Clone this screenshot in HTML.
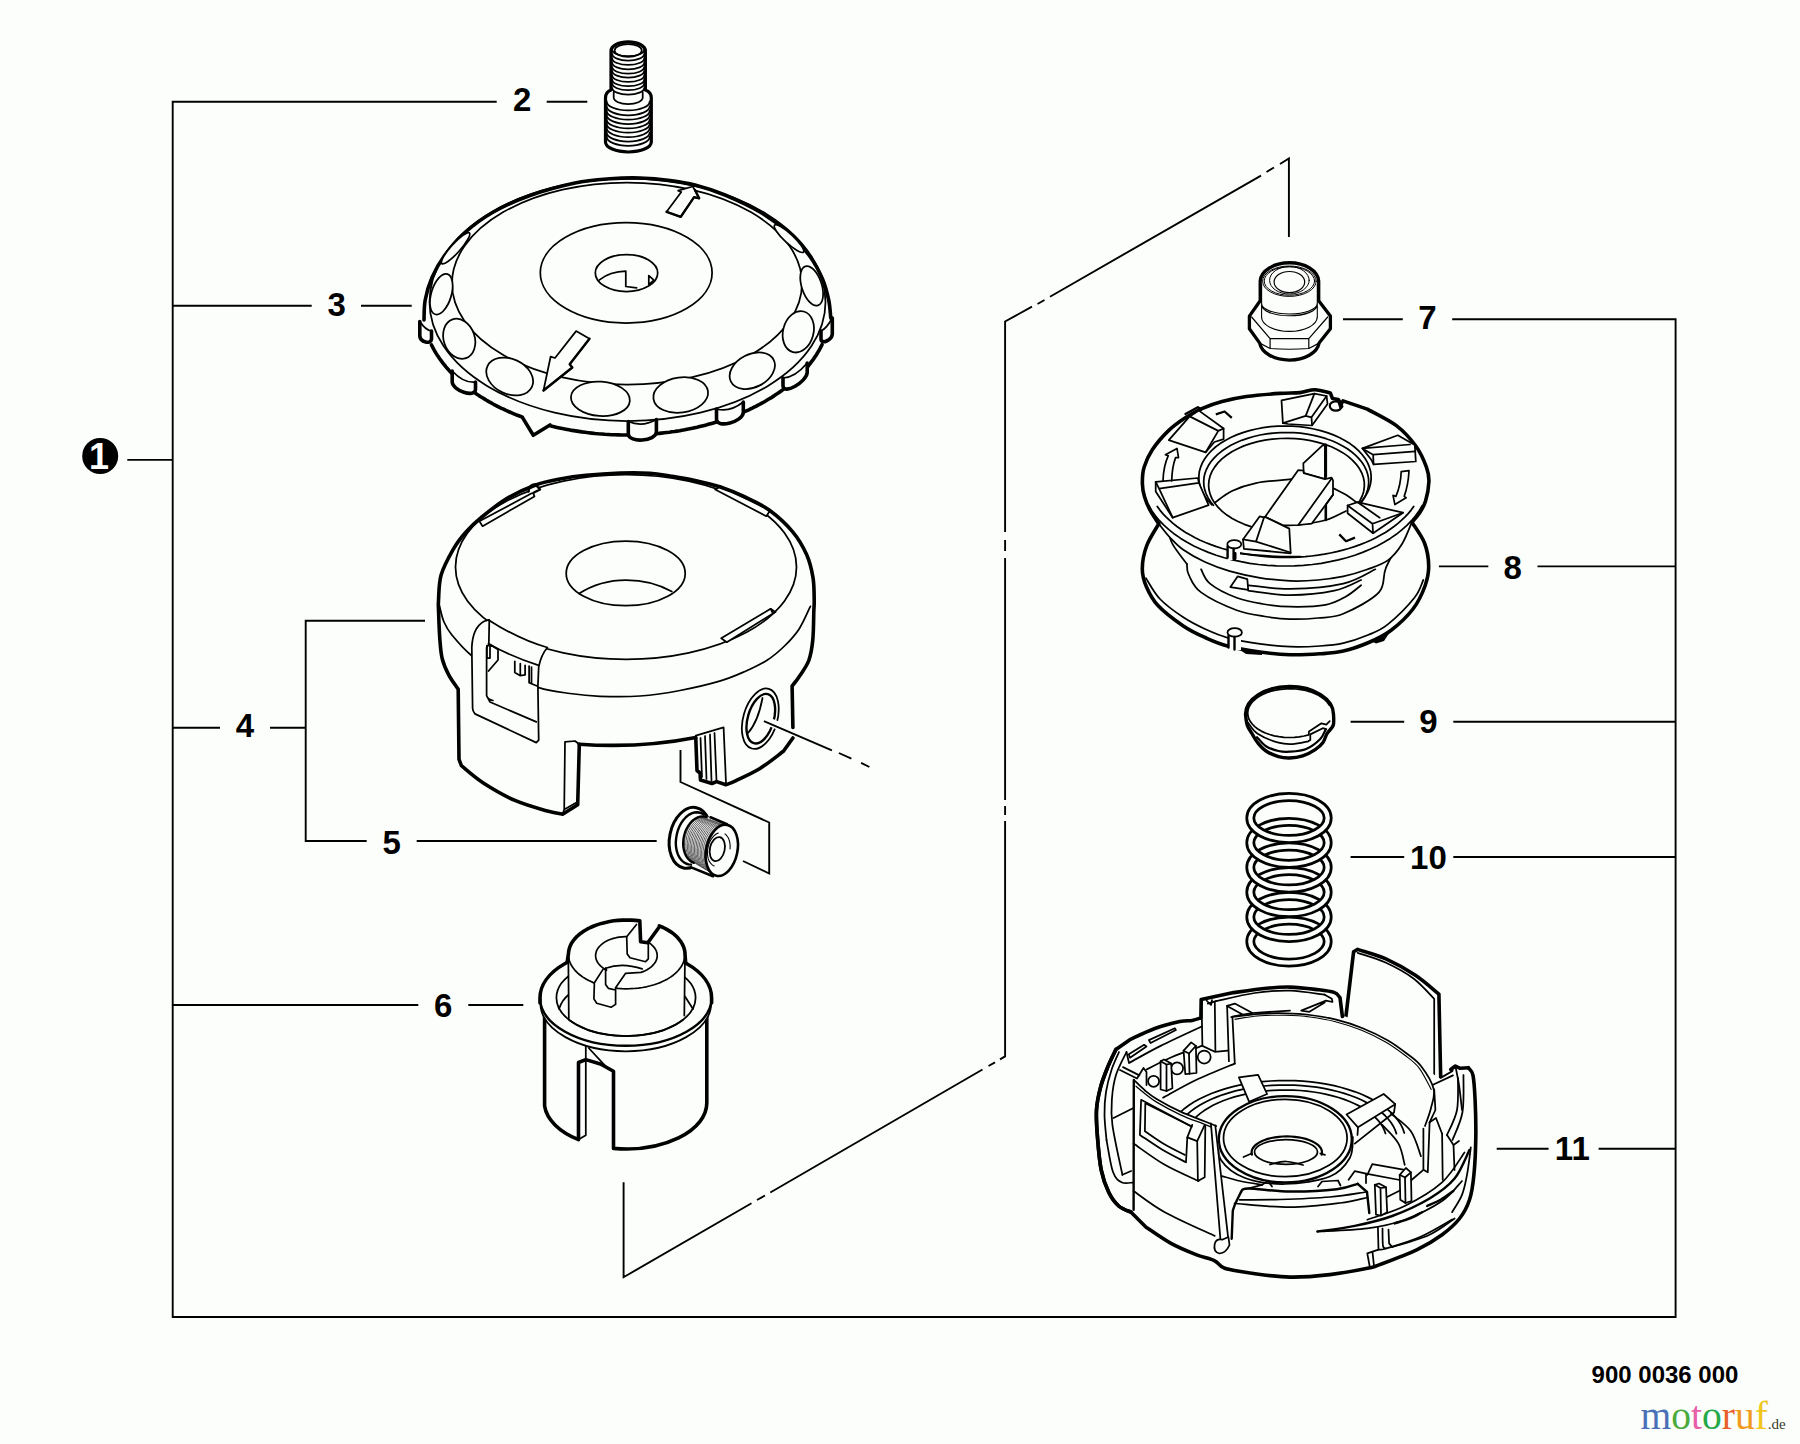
<!DOCTYPE html>
<html><head><meta charset="utf-8"><title>900 0036 000</title>
<style>
html,body{margin:0;padding:0;background:#fcfefc;}
body{width:1800px;height:1444px;overflow:hidden;font-family:"Liberation Sans",sans-serif;}
svg{display:block;position:absolute;left:0;top:0;}
.t{fill:none;stroke:#000;stroke-width:1.75;stroke-linecap:round;stroke-linejoin:round;}
.k{fill:none;stroke:#000;stroke-width:3.6;stroke-linecap:round;stroke-linejoin:round;}
.m{fill:none;stroke:#000;stroke-width:2.4;stroke-linecap:round;stroke-linejoin:round;}
.w{fill:#fcfefc;}
.l{fill:none;stroke:#000;stroke-width:1.9;stroke-linecap:butt;}
.n{font-family:"Liberation Sans",sans-serif;font-weight:bold;font-size:33px;fill:#000;text-anchor:middle;}
</style></head><body>
<svg width="1800" height="1444" viewBox="0 0 1800 1444">
<!-- LEADERS -->
<g id="leaders" class="l">
<path d="M496.7 101.7H172.7V1317H1675.6V319.2H1452.2"/>
<path d="M546.7 101.7H587.3"/>
<path d="M172.7 305.7H311.7M361 305.7H411.7"/>
<path d="M127.3 459.9H172.7"/>
<path d="M172.7 727.7H220M270 727.7H305.7"/>
<path d="M425 620.7H305.7V841H366.7M416.7 841H656.7"/>
<path d="M172.7 1005H418.3M468.3 1005H523.3"/>
<path d="M1343 319.2H1402.8"/>
<path d="M1438.9 566.4H1488.3M1537.5 566.4H1675.6"/>
<path d="M1350.6 721.7H1404.2M1453.3 721.7H1675.6"/>
<path d="M1350.6 857H1404.2M1453.3 857H1675.6"/>
<path d="M1496.7 1148.7H1548.6M1598.6 1148.7H1675.6"/>
<!-- dash-dot -->
<path d="M1288.9 237V158.4L1280 164M1274 167.5L1266.5 172M1261 175.6L1050 296.7M1044.5 300L1037.5 304M1032 306.7L1005.1 321.5V532M1005.1 540V551M1005.1 558V800M1005.1 806V815M1005.1 821V1056.4L1000 1059.4M995 1062.4L988.5 1066M982.5 1069.5L770.3 1192.5M765 1195.5L757 1200M751.5 1203.2L623.6 1277.2V1182.2"/>
<path d="M838.9 753L851.4 758.6M861.1 762.8L869.4 767"/>
<path d="M680.5 750V782L769.2 822.5V873.5L743 861"/>
</g>
<!-- LABELS -->
<g id="labels">
<circle cx="100.2" cy="456" r="18" fill="#000"/>
<text class="n" x="99" y="469.4" style="fill:#fff;font-size:36px">1</text>
<text class="n" x="522.3" y="111">2</text>
<text class="n" x="336.7" y="316.3">3</text>
<text class="n" x="245" y="737.2">4</text>
<text class="n" x="391.7" y="854.3">5</text>
<text class="n" x="443.3" y="1017">6</text>
<text class="n" x="1427.5" y="329.3">7</text>
<text class="n" x="1512.7" y="579">8</text>
<text class="n" x="1428.5" y="733">9</text>
<text class="n" x="1428.4" y="868.5">10</text>
<text class="n" x="1572.3" y="1159.6">11</text>
<text x="1665" y="1382.8" style="font-family:'Liberation Sans',sans-serif;font-weight:bold;font-size:24px;text-anchor:middle">900 0036 000</text>
<text x="1640.5" y="1428.6" style="font-family:'Liberation Serif',serif;font-size:39.5px"><tspan fill="#4a70b8">m</tspan><tspan fill="#4caa3c">o</tspan><tspan fill="#e85fa8">t</tspan><tspan fill="#25a848">o</tspan><tspan fill="#e8602a">r</tspan><tspan fill="#f09a20">u</tspan><tspan fill="#f0c61e">f</tspan><tspan fill="#3a3a2c" style="font-size:15px">.de</tspan></text>
</g>
<!-- PART2 -->
<g id="p2">
<path class="w" d="M611 51V92L605.5 97V142A22.9 10 0 0 0 651.3 142V97L645.4 92V51A17.2 9.2 0 0 0 611 51Z"/>
<path class="t" d="M612.2 49.7A16 6.5 0 0 0 644.2 49.7M612.2 54.0A16 6.5 0 0 0 644.2 54.0M612.2 58.4A16 6.5 0 0 0 644.2 58.4M612.2 62.8A16 6.5 0 0 0 644.2 62.8M612.2 67.1A16 6.5 0 0 0 644.2 67.1M612.2 71.0A16 6.5 0 0 0 644.2 71.0M612.2 75.4A16 6.5 0 0 0 644.2 75.4M612.2 79.7A16 6.5 0 0 0 644.2 79.7M612.2 83.6A16 6.5 0 0 0 644.2 83.6M612.2 88.0A16 6.5 0 0 0 644.2 88.0M613.7 97.6A14.5 6.5 0 0 0 642.7 97.6M613.7 92V98M642.7 92V98M606.7 101.4A21.5 9 0 0 0 649.7 101.4M606.7 106.3A21.5 9 0 0 0 649.7 106.3M606.7 110.7A21.5 9 0 0 0 649.7 110.7M606.7 115.0A21.5 9 0 0 0 649.7 115.0M606.7 119.4A21.5 9 0 0 0 649.7 119.4M606.7 123.7A21.5 9 0 0 0 649.7 123.7M606.7 128.1A21.5 9 0 0 0 649.7 128.1M606.7 132.5A21.5 9 0 0 0 649.7 132.5M606.7 136.8A21.5 9 0 0 0 649.7 136.8"/>
<ellipse class="t" cx="628.2" cy="50.5" rx="13.6" ry="6.3"/>
<path class="k" style="stroke-width:3.2" d="M611 51A17.2 9.2 0 0 1 645.4 51V90Q651.3 92 651.3 98V142A22.9 10 0 0 1 605.5 142V98Q605.5 92 611 90Z"/>
</g>
<!-- PART3 -->
<g id="p3">
<path class="w" d="M515 410L522.4 417.4L533.3 435.3L550 425L560 420Z"/>
<path class="w" d="M424.0 320.0C424.2 316.7 423.9 307.1 425.2 300.0C426.5 292.9 428.7 285.0 432.0 277.5C435.3 270.0 439.5 262.5 445.0 255.0C450.5 247.5 457.1 239.6 465.0 232.5C472.9 225.4 481.7 218.7 492.5 212.5C503.3 206.3 516.2 200.4 530.0 195.5C543.8 190.6 561.7 185.8 575.0 183.0C588.3 180.2 599.2 179.6 610.0 178.8C620.8 178.0 630.0 177.7 640.0 178.0C650.0 178.3 660.8 179.3 670.0 180.5C679.2 181.7 685.8 182.6 695.0 185.0C704.2 187.4 714.2 190.5 725.0 195.0C735.8 199.5 749.2 205.5 760.0 212.0C770.8 218.5 781.7 226.6 790.0 234.0C798.3 241.4 804.6 249.0 810.0 256.5C815.4 264.0 819.4 271.8 822.5 279.0C825.6 286.2 827.3 293.5 828.7 300.0C830.1 306.5 830.4 315.0 830.8 318.0L824.0 340.3L817.1 353.5L808.0 366.3L796.6 378.3L783.2 389.4L767.9 399.6L751.0 408.7L732.5 416.6L712.7 423.2L691.9 428.3L670.4 432.1L648.3 434.3L625.9 435.0L603.6 434.2L581.5 431.8L560.0 428.0L539.2 422.7L519.6 416.1L501.2 408.1L484.3 398.9L469.2 388.7L455.9 377.4L444.7 365.4L435.7 352.6L429.0 339.3Z"/>
<path class="k" d="M424.0 320.0C424.2 316.7 423.9 307.1 425.2 300.0C426.5 292.9 428.7 285.0 432.0 277.5C435.3 270.0 439.5 262.5 445.0 255.0C450.5 247.5 457.1 239.6 465.0 232.5C472.9 225.4 481.7 218.7 492.5 212.5C503.3 206.3 516.2 200.4 530.0 195.5C543.8 190.6 561.7 185.8 575.0 183.0C588.3 180.2 599.2 179.6 610.0 178.8C620.8 178.0 630.0 177.7 640.0 178.0C650.0 178.3 660.8 179.3 670.0 180.5C679.2 181.7 685.8 182.6 695.0 185.0C704.2 187.4 714.2 190.5 725.0 195.0C735.8 199.5 749.2 205.5 760.0 212.0C770.8 218.5 781.7 226.6 790.0 234.0C798.3 241.4 804.6 249.0 810.0 256.5C815.4 264.0 819.4 271.8 822.5 279.0C825.6 286.2 827.3 293.5 828.7 300.0C830.1 306.5 830.4 315.0 830.8 318.0M431.5 344.9L432.1 346.2L432.8 347.4L433.4 348.7L434.1 349.9L434.8 351.2L435.6 352.4L436.3 353.6L437.1 354.9L437.9 356.1L438.7 357.3L439.5 358.5L440.4 359.7L441.3 360.9L442.2 362.1L443.1 363.3L444.0 364.5L445.0 365.7L445.9 366.9L446.9 368.0L448.0 369.2L449.0 370.4L450.0 371.5L451.1 372.6L452.2 373.8M475.5 393.3L477.2 394.4L478.9 395.6L480.7 396.7L482.5 397.8L484.3 398.9L486.1 400.0L488.0 401.1L489.8 402.2L491.7 403.2L493.6 404.3L495.6 405.3L497.5 406.3L499.5 407.3L501.5 408.3L503.5 409.2L505.5 410.2L507.6 411.1L509.6 412.0L511.7 412.9L513.8 413.8L515.9 414.7L518.1 415.5L520.2 416.3L522.4 417.1M550.0 425.7L553.1 426.4L556.2 427.2L559.4 427.9L562.5 428.6L565.7 429.2L568.9 429.8L572.1 430.4L575.4 430.9L578.6 431.4L581.9 431.9L585.1 432.3L588.4 432.7L591.7 433.1L595.0 433.5L598.3 433.8L601.6 434.0L604.9 434.3L608.3 434.5L611.6 434.7L614.9 434.8L618.3 434.9L621.6 435.0L625.0 435.0L628.3 435.0M656.4 433.6L659.0 433.4L661.6 433.1L664.2 432.8L666.8 432.5L669.4 432.2L671.9 431.8L674.5 431.5L677.0 431.1L679.6 430.7L682.1 430.2L684.7 429.8L687.2 429.3L689.7 428.8L692.2 428.3L694.7 427.7L697.1 427.2L699.6 426.6L702.1 426.0L704.5 425.4L706.9 424.8L709.3 424.1L711.7 423.4L714.1 422.7L716.5 422.0M743.3 412.2L745.1 411.4L747.0 410.6L748.8 409.8L750.6 408.9L752.3 408.1L754.1 407.2L755.9 406.3L757.6 405.4L759.3 404.5L761.0 403.6L762.7 402.7L764.4 401.7L766.0 400.8L767.6 399.8L769.3 398.8L770.9 397.9L772.4 396.9L774.0 395.9L775.5 394.8L777.1 393.8L778.6 392.8L780.1 391.7L781.5 390.7L783.0 389.6M807.2 367.2L808.0 366.3L808.7 365.4L809.4 364.5L810.1 363.6L810.8 362.6L811.5 361.7L812.2 360.8L812.9 359.9L813.6 359.0L814.2 358.0L814.8 357.1L815.5 356.2L816.1 355.2L816.7 354.3L817.3 353.3L817.8 352.4L818.4 351.4L819.0 350.5L819.5 349.5L820.0 348.6L820.5 347.6L821.0 346.6L821.5 345.7L822.0 344.7M522.4 417.4L533.3 435.3L550 425"/>
<path class="t" d="M429.5 302A198 123.5 0 0 1 825.5 302A198 119 0 0 1 429.5 302Z"/>
<ellipse class="t" cx="627" cy="283.5" rx="175" ry="101"/>
<ellipse class="t" cx="626.2" cy="272.8" rx="85.9" ry="50.2"/>
<ellipse class="t" cx="626.5" cy="273" rx="31.2" ry="18.5"/>
<path class="t" d="M599.1 280.1Q610 271.5 625.8 271.2V286.5L636.6 287.8M648.8 275.6V284.6L653.9 280.1Z"/>
<ellipse class="t w" cx="455.6" cy="248.2" rx="20.6" ry="4.6" transform="rotate(-48 455.6 248.2)"/>
<ellipse class="t w" cx="441.3" cy="294.2" rx="10" ry="21" transform="rotate(17 441.3 294.2)"/>
<ellipse class="t w" cx="459.2" cy="338.8" rx="15.5" ry="20.5" transform="rotate(-19 459.2 338.8)"/>
<ellipse class="t w" cx="509.7" cy="376.5" rx="24.5" ry="17.5" transform="rotate(25 509.7 376.5)"/>
<ellipse class="t w" cx="600.4" cy="398.8" rx="29.5" ry="17.2" transform="rotate(4 600.4 398.8)"/>
<ellipse class="t w" cx="680.7" cy="395" rx="27.5" ry="17.6" transform="rotate(-8 680.7 395)"/>
<ellipse class="t w" cx="752.3" cy="370.7" rx="24" ry="16.5" transform="rotate(-27 752.3 370.7)"/>
<ellipse class="t w" cx="798.3" cy="331.8" rx="15.2" ry="21" transform="rotate(15 798.3 331.8)"/>
<ellipse class="t w" cx="811.7" cy="285.9" rx="10" ry="20.5" transform="rotate(-18 811.7 285.9)"/>
<ellipse class="t w" cx="789" cy="238.6" rx="19.7" ry="4.6" transform="rotate(43 789 238.6)"/>
<path class="w" d="M628.3 421.5L628.3 434.0C628.8 443.3333333333333 655.9 441.3333333333333 656.4 432.0L656.4 419.5Q642.3499999999999 427.5 628.3 421.5Z"/><path class="k" d="M628.3 421.5L628.3 434.0C628.8 443.3333333333333 655.9 441.3333333333333 656.4 432.0L656.4 419.5"/><path class="t" d="M656.4 419.5Q642.3499999999999 427.5 628.3 421.5"/>
<path class="w" d="M716.5 409L716.5 419.5C717.0 428.8333333333333 742.8 421.8333333333333 743.3 412.5L743.3 402Q729.9 412.5 716.5 409Z"/><path class="k" d="M716.5 409L716.5 419.5C717.0 428.8333333333333 742.8 421.8333333333333 743.3 412.5L743.3 402"/><path class="t" d="M743.3 402Q729.9 412.5 716.5 409"/>
<path class="w" d="M783 378L783 386C783.5 395.3333333333333 806.7 381.8333333333333 807.2 372.5L807.2 363Q795.1 377.5 783 378Z"/><path class="k" d="M783 378L783 386C783.5 395.3333333333333 806.7 381.8333333333333 807.2 372.5L807.2 363"/><path class="t" d="M807.2 363Q795.1 377.5 783 378"/>
<path class="w" d="M821 331L821 339C821.5 345.0 831.8 340.0 832.3 334L832.3 318Q826.65 328.5 821 331Z"/><path class="k" d="M821 331L821 339C821.5 345.0 831.8 340.0 832.3 334L832.3 318"/><path class="t" d="M832.3 318Q826.65 328.5 821 331"/>
<path class="w" d="M419.8 321.5L419.8 336.0C420.3 342.0 431.0 345.0 431.5 339L431.5 331Q425.65 330.25 419.8 321.5Z"/><path class="k" d="M419.8 321.5L419.8 336.0C420.3 342.0 431.0 345.0 431.5 339L431.5 331"/><path class="t" d="M431.5 331Q425.65 330.25 419.8 321.5"/>
<path class="w" d="M452.2 371L452.2 382C452.7 390.6666666666667 475.0 398.1666666666667 475.5 389.5L475.5 382Q463.85 383.5 452.2 371Z"/><path class="k" d="M452.2 371L452.2 382C452.7 390.6666666666667 475.0 398.1666666666667 475.5 389.5L475.5 382"/><path class="t" d="M475.5 382Q463.85 383.5 452.2 371"/>
<path class="t w" d="M543.5 390.5L550.6 356.7L555 358L576.1 331.1L589.5 338.8L569.7 364.3L572.3 367.5Z"/>
<path class="k" d="M589.5 338.8L569.7 364.3L572.3 367.5L543.5 390.5" style="stroke-width:2.4"/>
<path class="t w" d="M666.6 211.8L681.3 192L678.1 190.7L692.8 186.5L699.2 198.3L694.1 197.1L680.7 216.9Z"/>
<path class="k" d="M666.6 211.8L680.7 216.9L694.1 197.1L699.2 198.3L695 190" style="stroke-width:2.4"/>
</g>
<!-- PART4 -->
<g id="p4">
<path class="w" d="M438.6 612.0C438.6 610.1 438.1 606.8 438.5 600.6C438.9 594.4 438.7 583.5 441.1 575.0C443.6 566.5 449.1 556.6 453.2 549.4C457.3 542.2 461.3 537.3 466.0 532.0C470.7 526.7 474.6 523.0 481.3 517.5C488.0 512.0 497.1 504.4 506.0 499.0C515.0 493.6 526.0 488.5 535.0 485.2C544.0 481.9 551.5 480.6 560.0 479.0C568.5 477.4 576.0 476.3 586.0 475.3C596.0 474.3 609.3 473.4 620.0 473.0C630.7 472.6 641.5 472.7 650.0 473.2C658.5 473.7 663.6 475.0 671.1 476.2C678.6 477.4 686.9 478.7 695.0 480.5C703.1 482.3 711.4 484.1 719.7 486.8C728.0 489.6 736.7 493.1 745.0 497.0C753.3 500.9 761.6 504.4 769.5 510.2C777.4 516.0 786.3 524.2 792.5 531.6C798.7 539.0 803.2 546.9 806.6 554.6C810.0 562.3 811.7 569.9 813.0 577.6C814.3 585.3 814.1 594.9 814.2 600.6C814.3 606.3 813.9 610.1 813.8 612.0L812.8 639.8C812.1 643.2 811.0 654.4 808.8 660.5C806.5 666.6 802.1 672.2 799.3 676.5C796.5 680.8 793.3 684.4 792.1 686.0L792.9 738L783.4 751.3C779.4 754.2 767.5 763.9 759.5 768.8C751.5 773.7 741.2 778.1 735.6 780.8C730.0 783.5 727.6 784.1 726.0 784.8L716.5 781.6L700.5 780L695.8 738.6L640 745.7L579.3 744.2L577.7 804.7L562.6 814.2L547.4 811.0C542.1 809.3 526.2 805.3 515.6 800.7C505.0 796.1 492.7 789.0 483.7 783.2C474.7 777.4 465.5 769.7 461.4 765.7C457.3 761.7 459.4 760.4 459.0 759.3L458.6 692L458.2 689.2C456.6 686.8 451.3 679.9 448.7 674.9C446.1 669.9 443.8 664.9 442.3 659.0C440.8 653.1 440.5 647.6 439.9 639.8C439.3 632.0 438.8 616.6 438.6 612.0Z"/>
<ellipse class="t" cx="626" cy="567" rx="170.5" ry="92.3"/>
<path class="t" d="M439.5 606.0C440.2 608.7 441.9 617.2 444.0 622.0C446.1 626.8 447.3 629.4 451.9 635.0C456.5 640.6 463.8 649.5 471.8 655.8C479.8 662.0 488.9 667.2 500.0 672.5C511.1 677.8 527.0 684.1 538.7 687.6C550.4 691.1 559.8 692.0 570.0 693.5C580.2 695.0 588.3 695.9 600.0 696.3C611.7 696.7 626.7 697.0 640.0 696.0C653.3 695.0 666.7 693.0 680.0 690.5C693.3 688.0 708.8 684.4 719.6 681.2C730.4 678.0 737.0 675.0 745.0 671.5C753.0 668.0 760.7 664.3 767.4 660.0C774.1 655.7 779.7 650.7 785.0 645.5C790.3 640.3 795.1 635.2 799.3 628.7C803.5 622.2 808.5 610.1 810.4 606.4"/>
<ellipse class="t" cx="625.7" cy="573.4" rx="59.5" ry="32.3"/>
<path class="t" d="M579.1 593.5Q600 580 626 580Q652 580 671.8 591.6"/>
<path class="t w" d="M479.4 521.3L533.1 492.6L534.4 496.4L482.6 526.2Z"/>
<path class="t w" d="M715.2 489.4L721 486.2L770.1 510.5L766.3 516.2Z"/>
<path class="t w" d="M721.2 638.2L770.6 608.8L775.4 612L726.8 642.2Z"/>
<path class="t" d="M770.6 608.8L772.5 612.5L775.4 612"/>
<path class="m w" d="M528.5 491.5Q529.5 484 535.5 484.5L540 489.5L533.5 492.8"/>
<path class="k" d="M458.2 689.2C456.6 686.8 451.3 679.9 448.7 674.9C446.1 669.9 443.8 664.9 442.3 659.0C440.8 653.1 440.5 647.6 439.9 639.8C439.3 632.0 438.8 618.5 438.6 612.0C438.4 605.5 438.1 606.8 438.5 600.6C438.9 594.4 438.7 583.5 441.1 575.0C443.6 566.5 449.1 556.6 453.2 549.4C457.3 542.2 461.3 537.3 466.0 532.0C470.7 526.7 474.6 523.0 481.3 517.5C488.0 512.0 497.1 504.4 506.0 499.0C515.0 493.6 526.0 488.5 535.0 485.2C544.0 481.9 551.5 480.6 560.0 479.0C568.5 477.4 576.0 476.3 586.0 475.3C596.0 474.3 609.3 473.4 620.0 473.0C630.7 472.6 641.5 472.7 650.0 473.2C658.5 473.7 663.6 475.0 671.1 476.2C678.6 477.4 686.9 478.7 695.0 480.5C703.1 482.3 711.4 484.1 719.7 486.8C728.0 489.6 736.7 493.1 745.0 497.0C753.3 500.9 761.6 504.4 769.5 510.2C777.4 516.0 786.3 524.2 792.5 531.6C798.7 539.0 803.2 546.9 806.6 554.6C810.0 562.3 811.7 569.9 813.0 577.6C814.3 585.3 814.1 594.9 814.2 600.6C814.3 606.3 814.0 605.5 813.8 612.0C813.6 618.5 813.6 631.7 812.8 639.8C812.0 647.9 811.0 654.4 808.8 660.5C806.5 666.6 802.1 672.2 799.3 676.5C796.5 680.8 793.3 684.4 792.1 686.0L792.9 727.4M792.9 738L783.4 751.3C779.4 754.2 767.5 763.9 759.5 768.8C751.5 773.7 741.2 778.1 735.6 780.8C730.0 783.5 727.6 784.1 726.0 784.8L716.5 781.6L712 783.5L700.5 780L700 773L697 770.5L695.8 738.6M458.2 689.2L459 759.3L461.4 765.7C465.1 768.6 474.7 777.4 483.7 783.2C492.7 789.0 505.0 796.1 515.6 800.7C526.2 805.3 539.6 808.8 547.4 811.0C555.2 813.2 560.1 813.7 562.6 814.2L577.7 804.7L579.3 744.2"/>
<path class="k" d="M579.3 744.2Q640 748.5 695.8 737.5"/>
<path class="t" d="M579.3 744.2L575 741L565 741.8L564.2 809.5L576.5 802.5M564.2 809.5L562.6 814.2"/>
<path class="t" d="M695.8 735.6L723.6 727.4L726 783.2M700.5 738L702 777M705 736L706.5 779M710 734.5L711.5 781M714.5 733L716.5 780.5"/>
<path class="t w" d="M547.4 647.5Q541 655 538.7 667L537.9 686L538.7 740.2L536.3 742.6L475 713.9Q472.6 711 472.6 708.3L471.8 647.8Q472.5 628 483.7 621.5L488.5 619.9Q520 640 547.4 647.5Z"/>
<path class="t" d="M489.3 619.9L488.8 644.6L486.6 647.8L486.6 695.6L490 702L536.3 721.9M488.5 643.8Q512 657 538.7 665.3M486.6 695.6Q488 700 493 700.5"/>
<path class="t" d="M486.9 645.5V658H490V645M490 644.5L498 649.5V660L488.5 671M514.8 661.3V672.5L520.3 675.7V663.7M520.3 675.7L525.1 674.9V665.3M529.1 666.1V682.8L537.1 686M531.5 667V683.5"/>
<ellipse class="t w" cx="760.3" cy="718.7" rx="17" ry="31" transform="rotate(16 760.3 718.7)"/>
<ellipse class="m" cx="760.8" cy="718.7" rx="13" ry="25.5" transform="rotate(16 760.8 718.7)"/>
<path class="t" d="M762.5 698Q758 722 748 733"/>
<path class="w" d="M766 716L780 722L778 730L764 724Z"/>
<path class="l" d="M763.9 721.1L831.9 750.3"/>
</g>
<!-- PART5 -->
<g id="p5">
<ellipse class="w" cx="690" cy="837.8" rx="21" ry="31.5" transform="rotate(12 690 837.8)"/>
<ellipse class="k" style="stroke-width:3" cx="690" cy="837.8" rx="20.3" ry="30.8" transform="rotate(12 690 837.8)"/>
<path class="m" d="M691.3 864.6L688.5 864.4L685.9 863.5L683.4 862.0L681.2 859.9L679.3 857.3L677.8 854.2L676.7 850.6L676.0 846.8L675.8 842.7L676.1 838.6L676.8 834.4L677.9 830.3L679.4 826.5L681.3 822.9L683.6 819.7L686.1 817.0L688.7 814.9L691.6 813.4L694.4 812.5L697.3 812.2L700.1 812.7L702.7 813.8L705.0 815.5L707.1 817.8"/>
<ellipse class="w" cx="700.3" cy="840" rx="16.8" ry="23.8" transform="rotate(12 700.3 840)"/>
<path class="w" d="M704 815.5L727.8 824.6L713 876.2L691.5 867.5Z"/>
<path d="M692.3 861.7L688.8 858.4L686.1 853.8L684.7 848.1L684.4 841.9L685.4 835.6L687.6 829.6L690.8 824.4L694.7 820.5L699.2 818.0L703.8 817.2M693.7 862.6L690.1 859.2L687.5 854.6L686.1 848.9L685.8 842.6L686.8 836.2L689.0 830.2L692.2 825.0L696.2 821.0L700.6 818.5L705.2 817.7M695.0 863.4L691.5 860.1L688.9 855.4L687.5 849.6L687.3 843.3L688.3 836.9L690.5 830.8L693.7 825.6L697.6 821.5L702.1 819.0L706.7 818.1M696.4 864.2L692.9 860.9L690.4 856.1L688.9 850.4L688.7 844.0L689.7 837.6L691.9 831.5L695.1 826.2L699.1 822.1L703.5 819.5L708.1 818.6M697.8 865.1L694.3 861.7L691.8 856.9L690.3 851.1L690.1 844.7L691.2 838.2L693.4 832.1L696.6 826.7L700.5 822.6L705.0 820.0L709.5 819.1M699.2 865.9L695.7 862.5L693.2 857.7L691.7 851.9L691.6 845.5L692.6 838.9L694.8 832.7L698.0 827.3L702.0 823.1L706.4 820.5L711.0 819.6M700.5 866.7L697.1 863.3L694.6 858.5L693.2 852.7L693.0 846.2L694.1 839.6L696.3 833.3L699.5 827.9L703.4 823.7L707.9 821.0L712.4 820.1M701.9 867.6L698.5 864.2L696.0 859.3L694.6 853.4L694.4 846.9L695.5 840.2L697.7 833.9L700.9 828.4L704.9 824.2L709.3 821.5L713.8 820.6M703.3 868.4L699.8 865.0L697.4 860.1L696.0 854.2L695.9 847.6L696.9 840.9L699.2 834.5L702.4 829.0L706.4 824.7L710.8 822.0L715.3 821.1M704.6 869.2L701.2 865.8L698.8 860.9L697.4 854.9L697.3 848.3L698.4 841.5L700.6 835.2L703.8 829.6L707.8 825.3L712.2 822.5L716.7 821.6M706.0 870.1L702.6 866.6L700.2 861.7L698.8 855.7L698.7 849.0L699.8 842.2L702.1 835.8L705.3 830.2L709.3 825.8L713.7 823.1L718.2 822.1M707.4 870.9L704.0 867.4L701.6 862.5L700.3 856.4L700.2 849.7L701.3 842.9L703.5 836.4L706.8 830.7L710.7 826.4L715.1 823.6L719.6 822.6M708.7 871.7L705.4 868.3L703.0 863.3L701.7 857.2L701.6 850.4L702.7 843.5L705.0 837.0L708.2 831.3L712.2 826.9L716.5 824.1L721.0 823.1M710.1 872.6L706.8 869.1L704.4 864.1L703.1 857.9L703.0 851.2L704.2 844.2L706.4 837.6L709.7 831.9L713.6 827.4L718.0 824.6L722.5 823.6M711.5 873.4L708.2 869.9L705.8 864.9L704.5 858.7L704.5 851.9L705.6 844.9L707.9 838.2L711.1 832.5L715.1 828.0L719.4 825.1L723.9 824.1" style="fill:none;stroke:#333;stroke-width:0.8"/>
<path class="m" style="stroke-width:2.3" d="M693.9 862.9L691.9 862.0L690.0 860.7L688.3 859.0L686.8 857.1L685.5 854.8L684.5 852.3L683.8 849.6L683.3 846.7L683.1 843.7L683.3 840.6L683.7 837.5L684.4 834.5L685.3 831.6L686.6 828.8L688.0 826.2L689.7 823.8L691.5 821.7L693.5 819.9L695.6 818.5L697.8 817.4L700.1 816.7L702.3 816.5L704.5 816.6L706.7 817.1"/>
<path class="k" style="stroke-width:2.6" d="M710.5 817.3L727 824.3M691.8 867.6L713 876.2"/>
<ellipse class="w" cx="721.8" cy="850.3" rx="15.6" ry="26" transform="rotate(12 721.8 850.3)"/>
<ellipse class="k" style="stroke-width:2.6" cx="721.8" cy="850.3" rx="15.6" ry="26" transform="rotate(12 721.8 850.3)"/>
<path class="t" style="stroke-width:1.1" d="M725.0 834.0L725.4 834.4L725.9 834.7L726.3 835.1L726.7 835.5L727.0 836.0L727.4 836.5L727.7 837.0L728.1 837.5L728.4 838.1L728.6 838.7L728.9 839.3L729.1 840.0L729.3 840.6L729.5 841.3L729.7 842.0L729.8 842.7L729.9 843.5L730.0 844.2L730.1 845.0L730.1 845.7L730.1 846.5L730.1 847.3L730.1 848.1L730.0 848.9"/>
<path class="t" style="stroke-width:1.1" d="M714.2 865.9L713.0 865.4L712.0 864.6L711.0 863.7L710.2 862.6L709.4 861.4L708.7 860.0L708.2 858.4L707.8 856.8L707.6 855.0L707.5 853.2L707.5 851.3L707.7 849.4L708.0 847.6L708.4 845.7L709.0 843.9L709.7 842.1L710.5 840.5L711.4 839.0L712.4 837.6L713.5 836.3L714.6 835.2L715.8 834.3L717.1 833.6L718.3 833.1"/>
<ellipse class="m" style="stroke-width:1.8" cx="717.3" cy="849.1" rx="7.4" ry="12.2" transform="rotate(12 717.3 849.1)"/>
</g>
<!-- PART6 -->
<g id="p6">
<path class="w" d="M544.6 1000V1106A81 46 0 0 0 578.5 1139.6L585.8 1135.3V1059.6L600.4 1064L613.5 1071.3V1148.4A81 46 0 0 0 706.8 1103V1000Z"/>
<path class="k" d="M544.6 1008V1106A81 46 0 0 0 578.5 1139.6V1062.5L585.8 1059.6L600.4 1064L613.5 1071.3V1148.4A81 46 0 0 0 706.8 1103V1008"/>
<path class="t" d="M585.8 1046.5V1135.3L578.5 1139.6M588.7 1048L607.6 1068.4"/>
<path class="w" d="M540 997.8A85.8 48.5 0 0 1 711.6 997.8V1003A85.8 48.5 0 0 1 540 1003Z"/>
<path class="t" d="M540.4 1003A85.4 48.3 0 0 0 711.2 1003"/>
<path class="k" d="M540 1003V997.8A85.8 48.5 0 0 1 711.6 997.8V1003"/>
<path class="m" d="M540 997.8A85.8 48 0 0 0 711.6 997.8"/>
<ellipse class="t" cx="626" cy="997.8" rx="69.6" ry="38.3"/>
<path class="t" d="M559 1009Q562 1000 568.3 995M693 1009L685 996.5"/>
<path class="w" d="M568.3 954.4A58.3 34.4 0 0 1 685 954.4L684.3 1015.6Q626 1040 568.8 1018.3Z"/>
<path class="t" d="M568.3 954.4L568.8 1018.3M685 954.4L684.3 1015.6"/>
<path class="t" d="M683.0 1019.8L679.6 1022.2L675.9 1024.5L671.9 1026.6L667.6 1028.5L663.0 1030.3L658.1 1031.8L653.1 1033.1L647.9 1034.2L642.5 1035.0L637.1 1035.6L631.6 1036.0L626.0 1036.1L620.4 1036.0L614.9 1035.6L609.5 1035.0L604.1 1034.2L598.9 1033.1L593.9 1031.8L589.0 1030.3L584.4 1028.5L580.1 1026.6L576.1 1024.5L572.4 1022.2L569.0 1019.8"/>
<path class="m" style="stroke-width:1.7" d="M568.4 954.4L568.5 956.1L568.7 957.7L569.0 959.3L569.5 961.0L570.1 962.6L570.8 964.2L571.7 965.7L572.6 967.3L573.8 968.8L575.0 970.3L576.3 971.7L577.8 973.1L579.4 974.5L581.1 975.8L582.9 977.1L584.8 978.3L586.8 979.5L588.8 980.6L591.0 981.6L593.3 982.6L595.6 983.5L598.0 984.3L600.5 985.1L603.0 985.8M615.6 987.8L617.6 988.4L621.7 988.7L625.9 988.8L630.1 988.7L634.3 988.5L638.4 988.1L642.5 987.5L646.5 986.8L650.4 985.8L654.2 984.7L657.8 983.5L661.3 982.1L664.6 980.6L667.7 978.9L670.5 977.1L673.2 975.2L675.6 973.1L677.8 971.0L679.6 968.8L681.3 966.5L682.6 964.2L683.6 961.8L684.4 959.3L684.8 956.9L685.0 954.4"/>
<path class="m" style="stroke-width:1.7" d="M626.7 936.7L625.3 936.6L622.2 936.8L619.2 937.1L616.2 937.7L613.4 938.4L610.7 939.3L608.1 940.3L605.7 941.5L603.5 942.9L601.6 944.4L599.9 946.0L598.4 947.6L597.3 949.4L596.4 951.2L595.9 953.1L595.6 955.0L595.7 956.9L596.0 958.8L596.7 960.7L597.7 962.5L599.0 964.2L600.5 965.9L602.3 967.4L604.3 968.9L606.6 970.2L605.6 968.3"/>
<path class="m" style="stroke-width:1.7" d="M645.4 940.6L647.3 941.6L649.1 942.8L650.8 944.0L652.2 945.3L653.5 946.6L654.6 948.0L655.6 949.5L656.3 951.0L656.8 952.5L657.1 954.1L657.2 955.7L657.1 957.3L656.8 958.8L656.2 960.4L655.5 961.9L654.5 963.3L653.4 964.7L652.1 966.1L650.6 967.4L648.9 968.6L647.1 969.7L645.1 970.7L643.1 971.6L640.9 972.4L625.6 973.3L615.6 987.8"/>
<path class="m" style="stroke-width:1.7" d="M605.6 968.3Q622 962 642.2 968.9"/>
<path class="w" d="M640 920.6L640.6 941.7L647.8 942.8L659.4 926.7L655 916L645 915Z"/>
<path class="m" style="stroke-width:1.7" d="M636.5 924.5L626.7 936.7L627.2 953.9L630 957.8L645.6 961.7L648.3 958.9L648.3 943.9"/>
<path class="w" d="M603.3 968.9L594.4 982.8L593.9 998.9L596.7 1003.3L611.1 1007.2L615.6 1004.4L615.6 987.8L605.6 984.4Z"/>
<path class="m" style="stroke-width:1.7" d="M603.3 968.9L594.4 982.8L593.9 998.9L596.7 1003.3L611.1 1007.2L615.6 1004.4L615.6 987.8M605.6 968.3L605.6 984.4L608.3 988.3L615.6 990"/>
<path class="k" d="M567.2 962L568.3 954.4L568.4 954.4L568.6 951.8L569.1 949.3L569.9 946.7L571.0 944.2L572.4 941.8L574.2 939.5L576.2 937.2L578.6 935.0L581.2 932.9L584.0 931.0L587.1 929.2L590.4 927.5L593.9 926.0L597.6 924.6L601.5 923.4L605.5 922.4L609.6 921.5L613.8 920.8L618.1 920.4L622.5 920.1L626.8 920.0L631.2 920.1L635.5 920.4L639.8 920.9L640.6 941.7L647.8 942.8L659.4 926.7L659.3 925.9L661.2 926.7L663.1 927.5L664.9 928.4L666.7 929.4L668.4 930.4L670.0 931.4L671.6 932.4L673.1 933.5L674.5 934.7L675.8 935.8L677.0 937.0L678.2 938.3L679.2 939.5L680.2 940.8L681.1 942.1L681.9 943.4L682.6 944.7L683.3 946.1L683.8 947.4L684.2 948.8L684.6 950.2L684.8 951.6L685.0 953.0L685.0 954.4L685.6 962"/>
</g>
<!-- PART7 -->
<g id="p7">
<path class="w" d="M1260.2 281A29.3 19.4 0 0 1 1318.7 281V300.8L1330.4 316.1V328.7L1319.1 343.1A29.9 19.2 0 0 1 1259.7 343.1L1249.4 328.7V316.1L1260.2 300.8Z"/>
<ellipse class="t" style="stroke-width:1" cx="1289.4" cy="281.2" rx="26.8" ry="15.2"/>
<ellipse class="t" style="stroke-width:1" cx="1289.4" cy="281" rx="25.2" ry="14.2"/>
<ellipse class="t" style="stroke-width:1" cx="1289.4" cy="280.3" rx="19.8" ry="13.7"/>
<ellipse class="t" style="stroke-width:1.2" cx="1289.4" cy="282.1" rx="15.3" ry="10.6"/>
<path class="t" style="stroke-width:1.1" d="M1261.6 303.5A27.8 10.5 0 0 0 1317.2 303.5M1261.6 305.0A27.8 10.8 0 0 0 1317.2 305.0M1261.6 317.0A27.8 14.4 0 0 0 1317.2 317.0M1261.6 284V318M1317.3 284V318"/>
<path class="t" style="stroke-width:1.2" d="M1251.6 317L1270.1 338.6H1308.8L1327.7 317M1270.1 338.6V348.5M1308.8 338.6V348.5M1259.7 343.1L1270.1 348.5Q1289.4 350 1308.8 348.5L1319.1 343.1"/>
<path class="k" style="stroke-width:3.3" d="M1260.2 281A29.3 19.4 0 0 1 1318.7 281V300.8L1330.4 316.1V328.7L1319.1 343.1A29.9 19.2 0 0 1 1259.7 343.1L1249.4 328.7V316.1L1260.2 300.8Z"/>
</g>
<!-- PART8 -->
<g id="p8">
<path class="w" d="M1158.8 523.8C1156.8 527.5 1149.3 538.5 1146.6 546.0C1143.8 553.5 1142.3 562.2 1142.3 569.0C1142.3 575.8 1143.9 581.0 1146.5 587.0C1149.1 593.0 1151.6 598.8 1157.7 605.3C1163.8 611.8 1175.4 620.6 1183.3 626.0C1191.2 631.4 1197.6 634.2 1205.0 637.5C1212.4 640.8 1218.3 643.6 1227.5 646.0C1236.7 648.4 1249.6 650.5 1260.0 652.0C1270.4 653.5 1280.0 654.4 1290.0 654.7C1300.0 655.0 1311.1 654.4 1320.0 653.8C1328.9 653.2 1335.2 653.0 1343.3 651.1C1351.4 649.2 1360.8 645.9 1368.7 642.5C1376.6 639.1 1383.4 636.1 1390.8 630.5C1398.2 624.9 1407.3 616.4 1413.0 609.0C1418.7 601.6 1422.4 593.2 1425.0 586.0C1427.6 578.8 1428.8 573.2 1428.7 566.0C1428.6 558.8 1427.3 550.3 1424.5 543.0C1421.7 535.7 1414.0 525.7 1411.9 522.2Z"/>
<path d="M1371 641L1376 643.5L1384 641L1390 632Z" fill="#000"/><path d="M1240 650L1246 654L1262 655L1262 652Z" fill="#000"/>
<path class="k" d="M1158.8 523.8C1156.8 527.5 1149.3 538.5 1146.6 546.0C1143.8 553.5 1142.3 562.2 1142.3 569.0C1142.3 575.8 1143.9 581.0 1146.5 587.0C1149.1 593.0 1151.6 598.8 1157.7 605.3C1163.8 611.8 1175.4 620.6 1183.3 626.0C1191.2 631.4 1197.6 634.2 1205.0 637.5C1212.4 640.8 1218.3 643.6 1227.5 646.0C1236.7 648.4 1249.6 650.5 1260.0 652.0C1270.4 653.5 1280.0 654.4 1290.0 654.7C1300.0 655.0 1311.1 654.4 1320.0 653.8C1328.9 653.2 1335.2 653.0 1343.3 651.1C1351.4 649.2 1360.8 645.9 1368.7 642.5C1376.6 639.1 1383.4 636.1 1390.8 630.5C1398.2 624.9 1407.3 616.4 1413.0 609.0C1418.7 601.6 1422.4 593.2 1425.0 586.0C1427.6 578.8 1428.8 573.2 1428.7 566.0C1428.6 558.8 1427.3 550.3 1424.5 543.0C1421.7 535.7 1414.0 525.7 1411.9 522.2"/>
<path class="t" d="M1146.0 578.2C1148.3 581.7 1153.8 592.5 1160.0 599.0C1166.2 605.5 1175.8 612.3 1183.3 617.3C1190.8 622.3 1197.6 625.6 1205.0 629.0C1212.4 632.4 1218.6 635.3 1227.8 637.8C1237.0 640.3 1249.6 642.3 1260.0 643.8C1270.4 645.3 1280.0 646.3 1290.0 646.7C1300.0 647.1 1311.1 646.6 1320.0 646.0C1328.9 645.4 1335.3 644.9 1343.3 643.1C1351.3 641.3 1360.6 638.1 1368.0 635.0C1375.4 631.9 1380.1 630.6 1387.8 624.4C1395.5 618.2 1408.5 605.2 1414.4 597.8C1420.3 590.4 1421.8 583.0 1423.3 580.0"/>
<path class="w" d="M1228 636H1241V650H1228Z"/>
<ellipse class="t w" style="stroke-width:1.8" cx="1234.7" cy="632.4" rx="7.2" ry="4.3"/>
<path class="m" d="M1228.5 636V647.5M1234.5 637V649.5"/>
<path class="t" d="M1167.3 528.4C1168.2 531.1 1169.4 538.5 1172.7 544.4C1176.0 550.3 1184.5 560.7 1186.9 564.0"/>
<path class="t" d="M1186.9 564.0C1187.2 565.8 1186.3 570.0 1188.7 574.7C1191.1 579.4 1193.1 586.5 1201.1 592.4C1209.1 598.3 1226.0 606.2 1236.7 610.2C1247.4 614.2 1256.1 615.0 1265.0 616.5C1273.9 618.0 1281.2 618.9 1290.0 619.1C1298.8 619.4 1309.1 618.9 1318.0 618.0C1326.9 617.1 1333.1 618.1 1343.3 613.8C1353.5 609.5 1371.8 600.1 1378.9 592.4C1386.0 584.7 1381.8 577.4 1386.0 567.6C1390.2 557.8 1400.8 539.4 1403.8 533.8"/>
<path class="t" d="M1201.1 569.3C1202.6 571.7 1204.1 578.9 1210.0 583.6C1215.9 588.4 1227.9 594.4 1236.7 597.8C1245.5 601.2 1254.1 602.5 1263.0 604.0C1271.9 605.5 1279.6 606.6 1290.0 606.7C1300.4 606.9 1316.3 606.6 1325.6 604.9C1334.9 603.2 1340.1 599.8 1346.0 596.5C1351.9 593.2 1358.6 587.2 1361.1 585.3"/>
<path class="t" d="M1248.2 585.3C1255.2 585.9 1274.2 589.2 1290.0 588.9C1305.8 588.6 1329.1 586.9 1343.3 583.6C1357.5 580.3 1370.0 571.7 1375.3 569.3"/>
<path class="t" d="M1248.2 590.7C1255.2 591.4 1275.6 595.1 1290.0 595.1C1304.4 595.1 1322.6 593.2 1334.4 590.7C1346.2 588.2 1356.6 581.8 1361.1 580.0"/>
<path class="t w" d="M1230.4 587.1L1237.6 576.4L1247.3 579.1L1248.2 589.8Z"/>
<path class="w" d="M1158.8 523.8C1157.4 521.7 1152.9 515.5 1150.5 511.0C1148.1 506.5 1145.9 501.5 1144.6 497.0C1143.2 492.5 1142.5 488.9 1142.4 484.0C1142.3 479.1 1142.4 473.0 1144.1 467.3C1145.8 461.6 1148.2 456.0 1152.3 449.8C1156.4 443.6 1163.3 435.7 1168.8 430.4C1174.2 425.1 1179.5 421.6 1185.0 418.0C1190.5 414.4 1195.6 411.4 1201.8 408.6C1208.0 405.9 1214.6 403.5 1222.0 401.5C1229.4 399.5 1236.7 397.9 1246.4 396.5C1256.1 395.1 1271.1 394.0 1280.0 393.4C1288.9 392.8 1294.2 393.2 1300.0 392.6C1305.8 392.0 1309.8 389.6 1314.9 389.7C1320.0 389.8 1327.8 392.5 1330.4 393.1L1332.4 398.4L1338.2 399.4L1341.1 404.2L1343.0 400.9C1347.0 402.3 1358.4 405.0 1367.3 409.1C1376.2 413.2 1388.3 419.5 1396.4 425.6C1404.5 431.8 1410.8 439.1 1415.8 446.0C1420.8 452.9 1424.3 461.3 1426.5 467.3C1428.7 473.3 1429.1 476.2 1428.9 481.8C1428.7 487.4 1427.1 496.0 1425.5 501.2C1423.9 506.4 1421.8 509.5 1419.5 513.0C1417.2 516.5 1413.2 520.7 1411.9 522.2L1411.9 522.2C1410.2 525.8 1406.0 537.6 1402.0 544.0C1398.0 550.4 1393.6 556.1 1387.8 560.4C1382.0 564.6 1374.4 566.8 1367.0 569.5C1359.6 572.2 1351.5 574.6 1343.3 576.4C1335.1 578.1 1326.9 579.2 1318.0 580.0C1309.1 580.8 1299.7 581.3 1290.0 580.9C1280.3 580.5 1270.1 579.4 1260.0 577.8C1249.9 576.2 1238.8 573.7 1229.6 571.1C1220.4 568.5 1212.7 565.5 1205.0 562.0C1197.3 558.5 1189.1 553.9 1183.3 549.8C1177.5 545.7 1174.1 541.8 1170.0 537.5C1165.9 533.2 1160.7 526.1 1158.8 523.8Z"/>
<path class="t" d="M1158.8 523.8C1160.7 526.1 1165.9 533.2 1170.0 537.5C1174.1 541.8 1177.5 545.7 1183.3 549.8C1189.1 553.9 1197.3 558.5 1205.0 562.0C1212.7 565.5 1220.4 568.5 1229.6 571.1C1238.8 573.7 1249.9 576.2 1260.0 577.8C1270.1 579.4 1280.3 580.5 1290.0 580.9C1299.7 581.3 1309.1 580.8 1318.0 580.0C1326.9 579.2 1335.1 578.1 1343.3 576.4C1351.5 574.6 1359.6 572.2 1367.0 569.5C1374.4 566.8 1382.0 564.6 1387.8 560.4C1393.6 556.1 1398.0 550.4 1402.0 544.0C1406.0 537.6 1410.2 525.8 1411.9 522.2"/>
<path class="t" style="stroke-width:1.7" d="M1422.3 505.5L1419.2 510.7L1415.6 515.8L1411.5 520.7L1406.9 525.4L1401.8 529.9L1396.3 534.3L1390.3 538.4L1383.9 542.3L1377.2 545.9L1370.0 549.3L1362.6 552.4L1354.8 555.2L1346.7 557.7L1338.4 559.9L1329.9 561.7L1321.3 563.3L1312.4 564.5L1303.5 565.3L1294.5 565.8L1285.5 566.0L1276.5 565.8L1267.5 565.3L1258.6 564.5L1249.7 563.3L1241.1 561.7L1232.6 559.9L1224.3 557.7L1216.2 555.2L1208.4 552.4L1201.0 549.3L1193.8 545.9L1187.1 542.3L1180.7 538.4L1174.7 534.3L1169.2 529.9L1164.1 525.4L1159.5 520.7L1155.4 515.8L1151.8 510.7L1148.7 505.5"/>
<path class="t" d="M1413.7 506.5L1411.1 510.1L1408.2 513.6L1405.1 516.9L1401.6 520.2L1398.0 523.4L1394.0 526.5L1389.8 529.5L1385.4 532.4L1380.7 535.1L1375.9 537.7L1370.8 540.2L1365.5 542.5L1360.1 544.6L1354.5 546.6L1348.7 548.5L1342.8 550.2L1336.8 551.7L1330.6 553.0L1324.4 554.2L1318.0 555.2L1311.6 556.0L1305.1 556.7L1298.6 557.1L1292.1 557.4L1285.5 557.5L1278.9 557.4L1272.4 557.1L1265.9 556.7L1259.4 556.0L1253.0 555.2L1246.6 554.2L1240.4 553.0L1234.2 551.7L1228.2 550.2L1222.3 548.5L1216.5 546.6L1210.9 544.6L1205.5 542.5L1200.2 540.2L1195.1 537.7L1190.3 535.1L1185.6 532.4L1181.2 529.5L1177.0 526.5L1173.0 523.4L1169.4 520.2L1165.9 516.9L1162.8 513.6L1159.9 510.1L1157.3 506.5"/>
<path class="k" d="M1158.8 523.8C1157.4 521.7 1152.9 515.5 1150.5 511.0C1148.1 506.5 1145.9 501.5 1144.6 497.0C1143.2 492.5 1142.5 488.9 1142.4 484.0C1142.3 479.1 1142.4 473.0 1144.1 467.3C1145.8 461.6 1148.2 456.0 1152.3 449.8C1156.4 443.6 1163.3 435.7 1168.8 430.4C1174.2 425.1 1179.5 421.6 1185.0 418.0C1190.5 414.4 1195.6 411.4 1201.8 408.6C1208.0 405.9 1214.6 403.5 1222.0 401.5C1229.4 399.5 1236.7 397.9 1246.4 396.5C1256.1 395.1 1271.1 394.0 1280.0 393.4C1288.9 392.8 1294.2 393.2 1300.0 392.6C1305.8 392.0 1309.8 389.6 1314.9 389.7C1320.0 389.8 1327.8 392.5 1330.4 393.1L1332.4 398.4L1338.2 399.4L1341.1 404.2L1343 400.9L1367.3 409.1C1372.2 411.9 1388.3 419.5 1396.4 425.6C1404.5 431.8 1410.8 439.1 1415.8 446.0C1420.8 452.9 1424.3 461.3 1426.5 467.3C1428.7 473.3 1429.1 476.2 1428.9 481.8C1428.7 487.4 1427.1 496.0 1425.5 501.2C1423.9 506.4 1421.8 509.5 1419.5 513.0C1417.2 516.5 1413.2 520.7 1411.9 522.2"/>
<ellipse class="m" style="stroke-width:2.2" cx="1335.8" cy="406" rx="6" ry="4.6"/>
<path d="M1337 401L1342.5 402.5L1343.5 407L1340 410Z" fill="#000"/>
<ellipse class="w" cx="1285" cy="477.5" rx="86.2" ry="51.5"/>
<path class="t" d="M1211.9 504.8L1208.3 501.0L1205.2 497.0L1202.7 492.9L1200.8 488.6L1199.6 484.3L1198.9 479.9L1198.9 475.6L1199.4 471.2L1200.7 466.9L1202.5 462.6L1204.9 458.5L1207.9 454.5L1211.5 450.6L1215.5 447.0L1220.1 443.6L1225.2 440.4L1230.7 437.5L1236.6 434.9L1242.8 432.6L1249.4 430.6L1256.2 429.0L1263.2 427.7L1270.4 426.7L1277.7 426.2L1285.0 426.0L1292.3 426.2L1299.6 426.7L1306.8 427.7L1313.8 429.0L1320.6 430.6L1327.2 432.6L1333.4 434.9L1339.3 437.5L1344.8 440.4L1349.9 443.6L1354.5 447.0L1358.5 450.6L1362.1 454.5L1365.1 458.5L1367.5 462.6L1369.3 466.9L1370.6 471.2L1371.1 475.6L1371.1 479.9L1370.4 484.3L1369.2 488.6L1367.3 492.9L1364.8 497.0L1361.7 501.0L1358.1 504.8"/>
<path class="t" d="M1213.4 505.2L1210.4 501.5L1208.0 497.7L1206.1 493.8L1204.7 489.8L1203.9 485.7L1203.7 481.6L1204.0 477.5L1204.9 473.5L1206.4 469.5L1208.4 465.6L1210.9 461.8L1214.0 458.1L1217.5 454.6L1221.5 451.3L1226.0 448.2L1230.8 445.3L1236.1 442.7L1241.7 440.3L1247.5 438.3L1253.7 436.5L1260.1 435.0L1266.6 433.9L1273.3 433.1L1280.1 432.6L1286.9 432.5L1293.7 432.7L1300.5 433.2L1307.2 434.1L1313.7 435.3L1320.0 436.9L1326.1 438.7L1332.0 440.8L1337.5 443.2L1342.6 445.9L1347.4 448.8L1351.8 452.0L1355.7 455.3L1359.1 458.9L1362.1 462.5L1364.5 466.4L1366.4 470.3L1367.7 474.3L1368.5 478.4L1368.7 482.5L1368.3 486.6L1367.4 490.6L1366.0 494.6L1364.0 498.5L1361.4 502.3L1358.4 506.0"/>
<path class="t" d="M1273.0 531.0L1265.4 530.0L1258.1 528.5L1251.0 526.6L1244.3 524.3L1238.0 521.5L1232.2 518.5L1226.9 515.1L1222.2 511.4L1218.2 507.4L1214.8 503.2L1212.1 498.9L1210.2 494.4L1209.0 489.8L1208.6 485.2L1209.0 480.5L1210.1 475.9L1212.0 471.4L1214.6 467.1L1217.9 462.9L1221.9 458.9L1226.6 455.2L1231.8 451.7L1237.6 448.7L1243.8 445.9L1250.5 443.6L1257.6 441.6L1264.9 440.1L1272.4 439.1L1280.1 438.5L1287.9 438.3L1295.6 438.6L1303.2 439.4L1310.7 440.6L1317.9 442.3L1324.9 444.4L1331.4 446.8L1337.5 449.7L1343.1 452.9L1348.1 456.4L1352.6 460.3L1356.3 464.3L1359.4 468.6L1361.8 473.0L1363.4 477.5L1364.3 482.1L1364.3 486.8L1363.7 491.4L1362.2 496.0L1360.0 500.4L1357.1 504.7"/>
<path class="t" d="M1215.4 502.2C1218.2 500.3 1225.2 494.2 1232.0 491.0C1238.8 487.8 1246.0 485.1 1256.0 483.1C1266.0 481.1 1286.0 479.8 1292.0 479.1"/>
<path class="t" d="M1283.0 525.4C1285.5 525.3 1291.1 525.9 1298.3 525.0C1305.5 524.1 1318.2 522.3 1326.2 520.0C1334.2 517.7 1342.7 512.5 1346.0 511.0"/>
<path class="t" d="M1333.9 488.5C1335.9 489.6 1342.3 492.6 1346.0 494.8C1349.7 497.1 1354.3 500.8 1356.0 502.0"/>
<path class="m" style="stroke-width:2.6" d="M1325.8 444.9V476.8M1325.8 504.7V520"/>
<path class="t w" d="M1322.6 445.3L1303.3 463.3L1303.7 473.2L1324.9 479.1V445.3Z"/>
<path class="t w" d="M1298.3 470.1L1303.3 470.5L1303.7 473.2L1324.9 479.1L1331.6 477.7L1333 480.4V494.8L1311.8 523.6L1298.3 525L1283 525.4L1265 516.9Z"/>
<path class="t" d="M1331.6 478.6L1298.3 525M1333 494.8L1325.8 504.7"/>
<path class="t w" d="M1259.6 516.4L1264.1 517.3L1265 516.9L1289.3 528.6L1290.7 553.3L1243.9 548.8L1243 539.4Z"/>
<path class="t" d="M1264.1 517.3L1256 541.6M1243 539.4L1256 541.6L1290.5 552.5"/>
<path class="t" d="M1235.3 553.2Q1268 557 1300 556.5"/>
<path class="w" d="M1227.5 546H1240V560H1227.5Z"/>
<ellipse class="t w" style="stroke-width:1.8" cx="1234.3" cy="544.3" rx="7" ry="4.2"/>
<path class="m" d="M1227.6 546.5V557.5M1233.6 548.7V559M1235.3 553.2V558.7"/>
<path class="t w" d="M1189.7 416.4L1198.9 410.6L1223.6 428.5V439.2L1214.4 442L1205.7 452.3L1168.8 440.1Z"/>
<path class="t" d="M1189.7 416.4L1218.3 430.9L1205.7 452.3M1218.3 430.9L1223.6 428.5"/>
<path class="m" d="M1185.5 414L1197.8 407.2L1201.5 409.4"/>
<path class="t w" d="M1155.7 481.8L1197.9 478L1198.9 482.8L1208.6 505.1L1172.7 517.7L1155.7 491.5Z"/>
<path class="t" d="M1155.7 481.8L1159.1 488.6L1198.9 482.8M1159.1 488.6L1172.7 517.7"/>
<path class="t w" d="M1281.5 400.4L1314.4 393.6L1326.6 396L1327.5 404L1312 425.5L1288 424L1282.9 423.2Z"/>
<path class="t" d="M1282.9 423.2L1305.7 415.9L1314.4 393.6M1305.7 415.9L1311.5 417.3L1326.6 396M1311.5 417.3L1312 425"/>
<path class="t w" d="M1362.4 448.4L1397.8 435.3L1414.8 445L1415.8 461.5L1373.6 464.4L1371.5 460Z"/>
<path class="t" d="M1362.4 448.4L1373.1 454.7L1415.3 451.3M1373.1 454.7L1373.6 464.4M1362.4 448.4L1410 444.5"/>
<path class="t w" d="M1347.6 505.5L1357.6 502.2L1403 512.7L1373.1 533.2L1347.6 513.3Z"/>
<path class="t" d="M1347.6 505.5L1372.5 523.8L1403 512.7M1372.5 523.8L1373.1 533.2M1357.6 502.2L1379.7 517.7"/>
<path class="m" style="stroke-width:1.7" d="M1163 480.9Q1163.5 466 1168.3 455.7L1165.4 454.7L1177 448.4L1178.5 457.6L1175.6 457.6Q1172 467 1171.7 480.9"/>
<path class="m" style="stroke-width:1.7" d="M1401.2 471.7Q1400.8 485 1395.9 496.4L1393 495.4L1394.9 504.6L1406.1 497.8L1404.2 496.4Q1408.3 485 1409 470.7Z"/>
<path class="m" style="stroke-width:2.3;stroke-linecap:butt" d="M1215.8 414.4L1224.6 411.5L1231.8 417.8M1339.3 534.4L1346 541.2L1355 537.6"/>
</g>
<!-- PART9 -->
<g id="p9">
<path class="w" d="M1245.5 714.3A44 27.8 0 0 1 1333.5 714.3L1333.5 714.3C1333.5 716.1 1334.3 722.2 1333.2 725.4C1332.1 728.6 1328.7 730.8 1327.0 733.7C1325.3 736.6 1324.8 740.1 1322.8 742.7C1320.8 745.4 1318.5 747.4 1315.2 749.6C1311.9 751.8 1307.0 754.5 1302.7 755.9C1298.4 757.3 1293.6 757.9 1289.6 758.0C1285.6 758.1 1282.4 757.8 1278.5 756.6C1274.6 755.4 1269.5 753.3 1266.0 751.0C1262.5 748.7 1259.9 745.4 1257.7 742.7C1255.5 740.1 1254.6 738.0 1252.9 735.1C1251.2 732.2 1248.5 728.9 1247.3 725.4C1246.1 721.9 1245.8 716.1 1245.5 714.3Z"/>
<path class="t" d="M1329.4 705.2L1327.5 702.4L1325.0 699.8L1321.9 697.5L1318.5 695.3L1314.5 693.4L1310.3 691.8L1305.7 690.5L1300.9 689.6L1295.9 689.0L1290.8 688.7L1285.7 688.8L1280.7 689.3L1275.8 690.1L1271.1 691.2L1266.7 692.7L1262.6 694.5L1258.9 696.5L1255.7 698.8L1252.9 701.3L1250.8 704.0L1249.1 706.8L1248.1 709.7L1247.7 712.6L1247.9 715.6L1248.7 718.5L1250.2 721.3L1252.2 724.0L1254.7 726.6L1257.8 729.0L1261.3 731.1L1265.3 733.0L1269.6 734.5L1274.2 735.8L1279.0 736.7L1284.0 737.3L1289.1 737.5L1294.2 737.4L1299.2 736.9L1304.1 736.0L1308.8 734.8L1309 731.6L1321.4 723.3L1326.3 724.7L1329.7 721.2"/>
<path class="t" d="M1248.0 722.6C1249.6 724.5 1252.6 730.4 1257.7 733.7C1262.8 737.1 1272.7 741.0 1278.5 742.7C1284.3 744.4 1287.3 744.3 1292.3 744.1C1297.3 743.9 1305.6 741.8 1308.3 741.3L1310.3 740L1310.3 734.4L1322.8 728.2L1326.3 729.2"/>
<path class="m" style="stroke-width:2.2" d="M1257.0 737.2C1258.5 738.7 1262.4 743.9 1266.0 746.2C1269.6 748.5 1274.6 750.1 1278.5 751.0C1282.4 751.9 1285.0 752.0 1289.6 751.7C1294.2 751.4 1301.1 751.1 1306.2 749.0C1311.3 746.9 1316.8 742.5 1320.0 739.3C1323.2 736.1 1324.7 731.2 1325.6 729.6"/>
<path class="k" style="stroke-width:3.4" d="M1245.5 714.3A44 27.8 0 0 1 1333.5 714.3L1333.5 714.3C1333.5 716.1 1334.3 722.2 1333.2 725.4C1332.1 728.6 1328.7 730.8 1327.0 733.7C1325.3 736.6 1324.8 740.1 1322.8 742.7C1320.8 745.4 1318.5 747.4 1315.2 749.6C1311.9 751.8 1307.0 754.5 1302.7 755.9C1298.4 757.3 1293.6 757.9 1289.6 758.0C1285.6 758.1 1282.4 757.8 1278.5 756.6C1274.6 755.4 1269.5 753.3 1266.0 751.0C1262.5 748.7 1259.9 745.4 1257.7 742.7C1255.5 740.1 1254.6 738.0 1252.9 735.1C1251.2 732.2 1248.5 728.9 1247.3 725.4C1246.1 721.9 1245.8 716.1 1245.5 714.3Z"/>
</g>
<!-- PART10 -->
<g id="p10">
<ellipse cx="1289" cy="941.6" rx="38.7" ry="21" style="fill:none;stroke:#000;stroke-width:9.8"/>
<ellipse cx="1289" cy="941.6" rx="38.7" ry="21" style="fill:none;stroke:#fcfefc;stroke-width:4.3"/>
<ellipse cx="1289" cy="917" rx="38.7" ry="21" style="fill:none;stroke:#000;stroke-width:9.8"/>
<ellipse cx="1289" cy="917" rx="38.7" ry="21" style="fill:none;stroke:#fcfefc;stroke-width:4.3"/>
<ellipse cx="1289" cy="892.2" rx="38.7" ry="21" style="fill:none;stroke:#000;stroke-width:9.8"/>
<ellipse cx="1289" cy="892.2" rx="38.7" ry="21" style="fill:none;stroke:#fcfefc;stroke-width:4.3"/>
<ellipse cx="1289" cy="867.5" rx="38.7" ry="21" style="fill:none;stroke:#000;stroke-width:9.8"/>
<ellipse cx="1289" cy="867.5" rx="38.7" ry="21" style="fill:none;stroke:#fcfefc;stroke-width:4.3"/>
<ellipse cx="1289" cy="842.8" rx="38.7" ry="21" style="fill:none;stroke:#000;stroke-width:9.8"/>
<ellipse cx="1289" cy="842.8" rx="38.7" ry="21" style="fill:none;stroke:#fcfefc;stroke-width:4.3"/>
<ellipse cx="1289" cy="818" rx="38.7" ry="21" style="fill:none;stroke:#000;stroke-width:9.8"/>
<ellipse cx="1289" cy="818" rx="38.7" ry="21" style="fill:none;stroke:#fcfefc;stroke-width:4.3"/>
</g>
<!-- PART11 -->
<g id="p11">
<path class="w" d="M1345.9 1016.5L1353.6 951.8L1357.7 949.4L1357.7 949.4C1362.4 951.0 1376.3 954.5 1385.9 958.8C1395.5 963.1 1406.6 969.4 1415.4 975.3C1424.2 981.2 1435.0 991.0 1438.9 994.1L1440.7 1078.9L1434 1086L1345 1030Z"/>
<path class="t" d="M1357.7 952.9L1357.7 952.9C1362.3 954.5 1376.2 958.2 1385.5 962.5C1394.8 966.8 1405.4 972.4 1413.5 978.5C1421.6 984.6 1430.8 995.5 1434.2 998.9L1434.2 1082.4"/>
<path class="k" d="M1345.9 1016.5L1353.6 951.8L1357.7 949.4L1357.7 949.4C1362.4 951.0 1376.3 954.5 1385.9 958.8C1395.5 963.1 1406.6 969.4 1415.4 975.3C1424.2 981.2 1435.0 991.0 1438.9 994.1L1440.7 1078.9L1453 1071.8"/>
<path class="w" d="M1131.1 1212.2C1129.0 1211.2 1122.4 1209.3 1118.7 1206.0C1115.0 1202.7 1111.6 1198.3 1108.7 1192.3C1105.8 1186.3 1103.1 1178.9 1101.2 1169.8C1099.3 1160.7 1098.3 1147.4 1097.5 1137.4C1096.7 1127.4 1096.0 1118.4 1096.5 1110.0C1097.0 1101.6 1098.7 1094.2 1100.6 1087.1C1102.5 1079.9 1105.2 1073.4 1107.7 1067.1C1110.2 1060.8 1114.5 1052.4 1115.9 1049.5L1129.9 1039.7C1134.1 1037.8 1146.5 1031.5 1154.8 1028.5C1163.1 1025.5 1173.5 1023.0 1179.7 1021.6C1185.9 1020.2 1188.7 1021.0 1192.2 1020.4C1195.7 1019.8 1199.5 1018.3 1200.9 1017.9L1201.2 999.4L1231.3 993.0C1237.2 992.2 1256.8 989.3 1266.6 988.3C1276.4 987.3 1281.9 986.9 1290.0 987.1C1298.1 987.3 1308.0 988.5 1315.3 989.4C1322.6 990.3 1330.0 991.0 1334.1 992.4C1338.2 993.8 1339.0 996.8 1340.0 997.7L1342.4 1016.5L1345.9 1016.5L1440.7 1078.9L1453 1071.8L1455.4 1066L1460.1 1068.3L1468.3 1067.7L1473.0 1075.4C1473.3 1079.5 1474.6 1089.7 1475.1 1100.0C1475.6 1110.3 1476.0 1124.9 1475.8 1137.4C1475.6 1149.9 1475.0 1164.4 1473.9 1174.8C1472.9 1185.2 1471.9 1192.5 1469.5 1199.8C1467.1 1207.1 1464.2 1212.7 1459.6 1218.5C1455.0 1224.3 1449.2 1229.5 1442.1 1234.7C1435.0 1239.9 1427.6 1244.6 1417.2 1249.6C1406.8 1254.6 1388.1 1261.5 1379.8 1264.6C1371.5 1267.7 1375.6 1266.6 1367.3 1268.3C1359.0 1270.0 1342.8 1273.1 1329.9 1274.6C1317.0 1276.1 1303.0 1277.3 1290.0 1277.1C1277.0 1276.9 1263.0 1274.8 1252.1 1273.3C1241.2 1271.8 1230.9 1270.4 1224.7 1268.3C1218.5 1266.2 1219.5 1263.1 1214.7 1260.8C1209.9 1258.5 1203.3 1257.5 1196.0 1254.6C1188.7 1251.7 1179.3 1248.0 1171.0 1243.4C1162.7 1238.8 1152.8 1232.4 1146.1 1227.2C1139.4 1222.0 1133.6 1214.7 1131.1 1212.2Z"/>
<path class="t"  d="M1231.2 1017.1C1236.0 1016.5 1251.0 1014.4 1260.0 1013.8C1269.0 1013.2 1276.7 1013.1 1285.0 1013.3C1293.3 1013.5 1301.5 1013.9 1310.0 1015.0C1318.5 1016.1 1327.5 1017.5 1336.2 1019.7C1344.9 1021.9 1353.5 1024.6 1362.0 1028.0C1370.5 1031.4 1380.2 1036.0 1387.5 1040.2C1394.8 1044.4 1400.5 1048.7 1406.0 1053.0C1411.5 1057.3 1416.2 1059.8 1420.8 1065.8C1425.4 1071.8 1431.9 1081.9 1433.6 1088.9C1435.3 1095.9 1432.4 1101.8 1431.0 1108.0C1429.6 1114.2 1426.0 1123.0 1425.0 1126.0"/>
<path class="t" style="stroke-width:1.1" d="M1234.8 1019.2C1239.0 1018.6 1251.6 1016.4 1260.0 1015.8C1268.4 1015.1 1276.7 1015.1 1285.0 1015.3C1293.3 1015.5 1301.6 1015.9 1310.0 1017.0C1318.4 1018.1 1327.0 1019.5 1335.5 1021.7C1344.0 1023.9 1352.6 1026.6 1361.0 1030.0C1369.4 1033.4 1378.8 1038.0 1386.0 1042.2C1393.2 1046.4 1399.0 1050.7 1404.5 1055.0C1410.0 1059.3 1414.5 1062.0 1419.0 1067.8C1423.5 1073.5 1429.2 1085.9 1431.2 1089.5"/>
<path class="t"  d="M1207.7 1003.6L1216.0 1001.2"/>
<path class="t"  d="M1216.0 1001.2C1222.5 999.8 1242.5 994.8 1254.8 993.0C1267.1 991.2 1278.3 990.3 1290.0 990.6C1301.7 990.9 1318.9 994.0 1324.7 994.7"/>
<path class="t"  d="M1324.7 994.7L1331.8 998.8L1332.5 1002.0L1326.0 1000.6L1301.2 1010.6L1309.4 1011.8L1324.7 1002.4"/>
<path class="t"  d="M1201.5 999.4L1202.4 1045.9L1214.8 1051.8L1227.7 1050.6"/>
<path class="t"  d="M1214.8 1002.4L1215.4 1051.2"/>
<path class="t"  d="M1206.5 1000.5L1211.0 1005.0L1212.0 1000.2"/>
<path class="t"  d="M1228.9 1061.2L1227.1 1005.9L1234.8 1003.6L1252.4 1013.0L1290.0 1010.6"/>
<path class="t"  d="M1227.1 1005.9L1243.0 1014.7L1232.4 1016.5L1234.8 1063.6"/>
<path class="t"  d="M1243.0 1014.7L1252.4 1013.0"/>
<path class="t"  d="M1130.0 1062.4C1135.1 1059.7 1148.6 1051.9 1160.6 1045.9C1172.6 1039.9 1194.9 1029.7 1201.8 1026.5"/>
<path class="t"  d="M1128.8 1054.2L1144.1 1044.8L1146.5 1046.5L1130.0 1057.7Z"/>
<path class="t"  d="M1148.9 1040.1L1174.8 1028.3L1175.9 1030.0L1150.6 1043.0Z"/>
<path class="t"  d="M1126.5 1052.0L1129.0 1063.0L1130.0 1062.4"/>
<path class="t"  d="M1146.5 1069.5C1150.8 1067.4 1162.8 1060.9 1172.0 1057.0C1181.2 1053.1 1196.8 1047.8 1201.8 1045.9"/>
<path class="t"  d="M1163.0 1097.7C1168.5 1094.8 1184.0 1085.7 1196.0 1080.0C1208.0 1074.3 1228.3 1066.3 1234.8 1063.6"/>
<circle class="t" cx="1204.2" cy="1057.1" r="6.5"/><circle class="t" cx="1177.1" cy="1068.3" r="6"/><circle class="t" cx="1153.6" cy="1081.3" r="5.5"/>
<path class="t w"  d="M1183.6 1050.7L1191.2 1042.4L1195.9 1045.9L1196.5 1073.0L1185.3 1074.2Z"/>
<path class="t"  d="M1183.6 1050.7L1189.0 1053.5L1195.9 1045.9"/>
<path class="t"  d="M1189.0 1053.5L1189.5 1073.8"/>
<path class="t w"  d="M1160.6 1061.2L1164.0 1059.5L1171.2 1063.6L1172.4 1088.3L1166.5 1091.0L1160.6 1089.5Z"/>
<path class="t"  d="M1160.6 1061.2L1166.5 1064.5L1171.2 1063.6"/>
<path class="t"  d="M1166.5 1064.5L1166.5 1091.0"/>
<path class="t"  d="M1123.0 1067.1L1139.4 1075.4"/>
<path class="t"  d="M1120.0 1070.0L1137.0 1078.5L1143.5 1068.0L1146.5 1072.0L1146.5 1085.0"/>
<path class="t"  d="M1119.0 1052.0C1117.8 1055.0 1113.7 1063.3 1111.5 1070.0C1109.3 1076.7 1107.2 1084.5 1106.0 1092.0C1104.8 1099.5 1104.4 1107.0 1104.5 1115.0C1104.6 1123.0 1106.2 1135.8 1106.5 1140.0"/>
<path class="t"  d="M1126.5 1052.0C1124.8 1055.8 1118.4 1067.3 1116.0 1075.0C1113.6 1082.7 1112.6 1089.7 1112.0 1098.0C1111.4 1106.3 1110.7 1112.1 1112.4 1124.9C1114.1 1137.7 1120.7 1166.5 1122.4 1174.8"/>
<path class="t"  d="M1122.4 1174.8L1131.1 1171.0"/>
<path class="t"  d="M1106.5 1140.0C1107.6 1145.3 1110.4 1164.9 1113.0 1172.0C1115.6 1179.1 1118.7 1180.8 1122.0 1182.5C1125.3 1184.2 1131.2 1182.5 1133.0 1182.5"/>
<path class="t"  d="M1113.5 1118.0L1133.5 1108.0"/>
<path class="t" d="M1170.7 1123.7L1173.4 1119.8L1176.5 1116.0L1180.2 1112.3L1184.3 1108.7L1188.9 1105.3L1193.9 1102.1L1199.4 1099.0L1205.2 1096.2L1211.4 1093.5L1218.0 1091.1L1224.8 1088.9L1232.0 1086.9L1239.3 1085.2L1246.9 1083.7L1254.7 1082.5L1262.6 1081.6L1270.6 1081.0L1278.7 1080.6L1286.8 1080.5L1294.9 1080.7L1303.0 1081.2L1311.0 1081.9L1318.8 1082.9L1326.5 1084.2L1334.1 1085.7L1341.4 1087.5L1348.4 1089.6L1355.2 1091.8L1361.6 1094.3L1367.7 1097.1L1373.4 1100.0L1378.8 1103.1L1383.6 1106.4L1388.1 1109.9L1392.1 1113.5L1395.5 1117.2L1398.5 1121.0L1401.0 1124.9L1402.9 1128.9L1404.3 1133.0"/>
<path class="t" d="M1178.4 1125.0L1180.9 1121.4L1183.8 1117.8L1187.2 1114.4L1191.0 1111.1L1195.3 1108.0L1200.0 1105.0L1205.1 1102.2L1210.6 1099.5L1216.4 1097.1L1222.5 1094.8L1228.9 1092.8L1235.5 1090.9L1242.4 1089.3L1249.5 1088.0L1256.7 1086.9L1264.1 1086.0L1271.6 1085.4L1279.2 1085.1L1286.7 1085.0L1294.3 1085.2L1301.8 1085.6L1309.3 1086.3L1316.6 1087.2L1323.8 1088.4L1330.8 1089.8L1337.6 1091.5L1344.2 1093.4L1350.5 1095.5L1356.6 1097.8L1362.2 1100.3L1367.6 1103.1L1372.5 1105.9L1377.1 1109.0L1381.3 1112.2L1385.0 1115.5L1388.2 1119.0L1391.0 1122.5L1393.3 1126.2L1395.1 1129.9L1396.4 1133.6"/>
<path class="t" d="M1188.9 1125.7L1191.1 1122.5L1193.8 1119.4L1196.8 1116.3L1200.3 1113.4L1204.2 1110.6L1208.4 1107.9L1213.0 1105.3L1217.9 1103.0L1223.1 1100.8L1228.7 1098.8L1234.4 1096.9L1240.4 1095.3L1246.6 1093.9L1253.0 1092.7L1259.6 1091.7L1266.2 1090.9L1273.0 1090.4L1279.8 1090.1L1286.6 1090.0L1293.4 1090.2L1300.2 1090.5L1306.9 1091.1L1313.6 1092.0L1320.0 1093.0L1326.4 1094.3L1332.5 1095.8L1338.5 1097.5L1344.2 1099.4L1349.6 1101.5L1354.7 1103.7L1359.5 1106.1L1364.0 1108.7L1368.1 1111.4L1371.8 1114.3L1375.2 1117.3L1378.1 1120.4L1380.6 1123.5L1382.7 1126.8L1384.3 1130.1L1385.5 1133.5"/>
<path class="t w"  d="M1238.9 1077.3L1258.1 1074.8L1267.1 1094.0L1249.1 1101.7Z"/>
<path class="t w"  d="M1346.5 1114.5L1383.7 1094.0L1395.2 1104.2L1358.0 1127.3Z"/>
<path class="t"  d="M1395.2 1104.2L1394.0 1112.5L1354.8 1143.6"/>
<path class="t"  d="M1358.0 1127.3L1357.5 1135.0"/>
<path class="t"  d="M1382.2 1124.9C1384.9 1128.0 1394.8 1136.9 1398.5 1143.6C1402.2 1150.2 1403.7 1161.3 1404.7 1164.8"/>
<path class="t"  d="M1391.0 1113.7C1394.3 1116.6 1405.9 1124.1 1410.9 1131.2C1415.9 1138.3 1419.2 1151.9 1420.9 1156.1"/>
<ellipse class="w" cx="1285.3" cy="1139.3" rx="66.5" ry="43.2"/>
<ellipse class="m" cx="1285.3" cy="1139.3" rx="66.5" ry="43.2"/>
<ellipse class="t" cx="1285.3" cy="1138" rx="61.8" ry="38.7"/>
<path class="m" style="stroke-width:2.2" d="M1251.9 1154.6L1251.6 1152.8L1251.7 1151.0L1252.3 1149.2L1253.3 1147.4L1254.8 1145.7L1256.7 1144.1L1259.0 1142.6L1261.6 1141.2L1264.6 1140.0L1267.8 1138.9L1271.3 1138.0L1275.0 1137.3L1278.8 1136.8L1282.8 1136.5L1286.8 1136.4L1290.8 1136.5L1294.8 1136.8L1298.6 1137.3L1302.3 1138.0L1305.8 1138.9L1309.0 1140.0L1312.0 1141.2L1314.6 1142.6L1316.9 1144.1L1318.8 1145.7L1320.3 1147.4L1321.3 1149.2L1321.9 1151.0L1322.0 1152.8L1321.7 1154.6"/>
<ellipse class="t" cx="1286" cy="1152" rx="31.5" ry="12.3"/>
<path class="t"  d="M1270.0 1164.5C1272.7 1164.0 1280.5 1161.4 1286.0 1161.5C1291.5 1161.6 1300.2 1164.4 1303.0 1165.0"/>
<path class="t"  d="M1243.5 1157.0L1251.5 1153.5"/>
<path class="t"  d="M1320.3 1153.5L1325.0 1154.8"/>
<path class="t"  d="M1218.4 1137.0C1218.8 1140.8 1216.6 1153.2 1221.0 1160.0C1225.4 1166.8 1234.3 1174.0 1245.0 1178.0C1255.7 1182.0 1270.8 1184.2 1285.0 1184.0C1299.2 1183.8 1319.1 1180.8 1329.9 1176.5C1340.7 1172.2 1346.0 1164.6 1349.8 1158.0C1353.6 1151.4 1352.4 1140.5 1352.9 1137.0"/>
<path class="t"  d="M1423.4 1128.7L1423.4 1169.8L1427.8 1172.3L1429.6 1122.4"/>
<path class="t"  d="M1442.1 1133.7L1442.7 1179.8"/>
<path class="t"  d="M1429.6 1122.4L1436.0 1118.0L1442.1 1133.7"/>
<path class="t"  d="M1434.2 1089.5L1435.4 1110.0L1429.6 1122.4"/>
<path class="t"  d="M1433.0 1084.8L1453.0 1075.4"/>
<path class="t"  d="M1453.5 1145.0L1454.5 1170.0"/>
<path class="t"  d="M1447.0 1135.0C1448.7 1130.8 1455.2 1119.5 1457.0 1110.0C1458.8 1100.5 1457.8 1083.3 1458.0 1078.0"/>
<path class="t"  d="M1452.5 1140.0C1454.2 1135.3 1460.7 1122.8 1462.5 1112.0C1464.3 1101.2 1463.3 1081.2 1463.5 1075.0"/>
<path class="t"  d="M1447.0 1135.0L1453.5 1145.0L1459.0 1141.0"/>
<path class="t"  d="M1455.4 1066.0C1456.0 1069.2 1457.9 1077.7 1459.0 1085.0C1460.1 1092.3 1461.5 1105.8 1462.0 1110.0"/>
<path class="t"  d="M1470.8 1147.4C1470.2 1152.0 1468.5 1166.9 1467.0 1174.8C1465.5 1182.7 1464.5 1188.6 1462.0 1194.8C1459.5 1201.0 1453.8 1209.3 1452.1 1212.2"/>
<path class="t"  d="M1367.3 1219.7C1373.5 1217.4 1392.2 1212.2 1404.7 1206.0C1417.2 1199.8 1432.1 1191.2 1442.1 1182.3C1452.1 1173.4 1460.8 1157.4 1464.5 1152.4"/>
<path class="t"  d="M1348.6 1179.8L1354.8 1171.1L1366.0 1173.6L1366.0 1183.0"/>
<path class="t"  d="M1367.3 1174.8L1372.3 1164.2L1404.7 1169.8"/>
<path class="t"  d="M1366.0 1173.6L1399.7 1180.0"/>
<path class="t w"  d="M1374.8 1184.8L1379.0 1183.5L1386.0 1187.3L1387.2 1212.2L1381.0 1215.5L1376.0 1214.7Z"/>
<path class="t"  d="M1374.8 1184.8L1380.5 1188.0L1386.0 1187.3"/>
<path class="t"  d="M1380.5 1188.0L1381.0 1215.5"/>
<path class="t w"  d="M1399.7 1174.8L1405.9 1168.0L1410.9 1172.3L1411.5 1201.0L1405.5 1203.0L1400.3 1199.8Z"/>
<path class="t"  d="M1399.7 1174.8L1405.0 1177.5L1410.9 1172.3"/>
<path class="t"  d="M1405.0 1177.5L1405.5 1203.0"/>
<path class="t"  d="M1387.0 1197.0L1400.0 1190.5"/>
<path class="t"  d="M1411.5 1180.0L1423.4 1169.8"/>
<path class="t"  d="M1222.2 1176.1C1225.2 1176.9 1233.3 1179.5 1240.0 1181.0C1246.7 1182.5 1258.4 1184.2 1262.1 1184.8"/>
<path class="t"  d="M1262.1 1184.8L1248.0 1188.5"/>
<path class="m"  d="M1241.0 1192.0L1235.2 1203.7L1232.8 1210.7L1231.7 1238.7"/>
<path class="m"  d="M1241.0 1192.0C1242.2 1191.4 1239.8 1188.6 1248.0 1188.5C1256.2 1188.4 1275.2 1191.4 1290.0 1191.5C1304.8 1191.6 1325.4 1190.5 1336.7 1189.2C1348.0 1187.9 1354.2 1184.7 1357.7 1183.8"/>
<path class="m"  d="M1357.7 1183.8L1367.0 1192.0L1369.3 1213.0"/>
<path class="t"  d="M1239.6 1199.8C1246.3 1199.8 1265.0 1200.0 1280.0 1199.5C1295.0 1199.0 1315.6 1198.2 1329.9 1197.0C1344.2 1195.8 1360.0 1192.8 1366.0 1192.0"/>
<path class="t"  d="M1234.6 1203.5C1243.8 1204.1 1272.4 1207.3 1290.0 1207.2C1307.6 1207.1 1327.1 1204.6 1340.0 1203.0C1352.9 1201.4 1362.9 1198.4 1367.5 1197.5"/>
<path class="t"  d="M1262.1 1184.8L1268.0 1181.0L1272.0 1186.5"/>
<path class="t"  d="M1318.0 1186.5L1322.0 1181.5L1338.0 1180.5L1340.5 1185.5"/>
<path class="m"  d="M1317.4 1231.5C1323.6 1230.6 1342.3 1228.5 1354.8 1225.9C1367.3 1223.3 1379.7 1220.6 1392.2 1216.0C1404.7 1211.4 1419.2 1204.7 1429.6 1198.5C1440.0 1192.3 1447.9 1186.7 1454.6 1178.6C1461.2 1170.5 1467.0 1154.7 1469.5 1149.9"/>
<path class="t"  d="M1317.4 1231.5C1325.7 1231.0 1352.8 1230.4 1367.3 1228.4C1381.8 1226.4 1392.2 1224.3 1404.7 1219.7C1417.2 1215.1 1432.5 1207.5 1442.1 1201.0C1451.6 1194.5 1458.7 1184.3 1462.0 1181.0"/>
<path class="m"  d="M1394.7 1223.4C1397.2 1222.6 1405.4 1220.4 1410.0 1218.5C1414.6 1216.6 1420.1 1213.2 1422.1 1212.2"/>
<path class="m"  d="M1427.1 1206.0C1429.4 1204.9 1436.6 1202.0 1441.0 1199.5C1445.4 1197.0 1451.2 1192.4 1453.3 1191.0"/>
<path class="t"  d="M1377.9 1227.2L1378.5 1249.6L1367.3 1253.4L1369.8 1267.1"/>
<path class="t"  d="M1372.5 1252.0L1374.0 1266.0"/>
<path class="t"  d="M1378.5 1249.6C1379.8 1249.4 1379.1 1250.6 1386.0 1248.5C1392.9 1246.4 1409.0 1241.8 1420.0 1237.0C1431.0 1232.2 1446.8 1222.4 1452.1 1219.5"/>
<path class="t" d="M1388.5 1229.7L1389.1 1243.4L1392.2 1247.1L1392.2 1247.1C1398.4 1245.0 1419.2 1239.5 1429.6 1234.7C1440.0 1229.9 1450.4 1221.2 1454.6 1218.5"/>
<path class="t"  d="M1382.5 1228.5C1382.6 1231.4 1382.4 1242.7 1383.0 1246.0C1383.6 1249.3 1385.5 1248.1 1386.0 1248.5"/>
<path class="w" d="M1133.8 1079.9L1133.8 1079.9C1135.7 1081.7 1141.2 1087.3 1145.0 1090.5C1148.8 1093.7 1150.7 1095.4 1156.6 1098.9C1162.5 1102.4 1172.5 1107.9 1180.5 1111.6C1188.5 1115.3 1198.4 1118.8 1204.4 1121.2C1210.4 1123.6 1214.3 1125.2 1216.3 1126.0L1228.2 1238.2L1220.5 1240.5L1214.7 1235.9C1206.4 1232.0 1178.3 1219.7 1164.8 1212.2C1151.3 1204.7 1138.8 1194.5 1133.6 1191.0Z"/>
<path class="m"  d="M1133.8 1079.9L1133.6 1209.7"/>
<path class="t"  d="M1133.8 1079.9C1135.7 1081.7 1141.2 1087.3 1145.0 1090.5C1148.8 1093.7 1150.7 1095.4 1156.6 1098.9C1162.5 1102.4 1172.5 1107.9 1180.5 1111.6C1188.5 1115.3 1198.4 1118.8 1204.4 1121.2C1210.4 1123.6 1214.3 1125.2 1216.3 1126.0"/>
<path class="t" style="stroke-width:1.3" d="M1136.0 1086.2C1137.7 1087.6 1142.6 1091.8 1146.0 1094.5C1149.4 1097.2 1150.8 1098.7 1156.6 1102.1C1162.3 1105.5 1172.8 1111.2 1180.5 1114.8C1188.2 1118.4 1197.8 1121.6 1202.8 1123.6C1207.8 1125.6 1209.5 1126.3 1210.8 1126.8"/>
<path class="t"  d="M1210.9 1123.4L1220.5 1240.5"/>
<path class="t"  d="M1215.3 1125.5L1228.2 1238.2"/>
<path class="t"  d="M1133.6 1191.0C1138.8 1194.5 1151.3 1204.7 1164.8 1212.2C1178.3 1219.7 1206.4 1232.0 1214.7 1235.9"/>
<path class="t"  d="M1133.6 1143.6C1138.8 1147.1 1154.0 1158.6 1164.8 1164.8C1175.6 1171.0 1192.9 1178.3 1198.5 1181.0"/>
<path class="t" d="M1192 1126.7L1141.1 1099.8L1139.9 1134.9L1139.9 1134.9C1143.6 1137.3 1154.3 1144.9 1162.0 1149.5C1169.7 1154.1 1182.0 1160.2 1186.0 1162.3L1187.3 1137.4L1192.2 1124.9"/>
<path class="t" d="M1189.7 1125.5L1145.3 1103.3L1144.9 1131.2L1144.9 1131.2C1148.1 1133.3 1157.3 1140.0 1164.0 1144.0C1170.7 1148.0 1181.3 1153.1 1184.8 1154.9"/>
<path class="t"  d="M1187.3 1137.4L1197.2 1141.1L1204.7 1124.9"/>
<path class="t"  d="M1197.2 1141.1L1197.9 1181.0L1204.7 1177.3L1205.3 1126.2"/>
<path class="t w" d="M1222.2 1239.7L1228.4 1237L1229.5 1245Q1226 1253 1219.5 1253.5Q1213 1252 1214.7 1244Q1216 1238.5 1222.2 1239.7Z"/>
<path class="k" d="M1131.1 1212.2C1129.0 1211.2 1122.4 1209.3 1118.7 1206.0C1115.0 1202.7 1111.6 1198.3 1108.7 1192.3C1105.8 1186.3 1103.1 1178.9 1101.2 1169.8C1099.3 1160.7 1098.3 1147.4 1097.5 1137.4C1096.7 1127.4 1096.0 1118.4 1096.5 1110.0C1097.0 1101.6 1098.7 1094.2 1100.6 1087.1C1102.5 1079.9 1105.2 1073.4 1107.7 1067.1C1110.2 1060.8 1114.5 1052.4 1115.9 1049.5L1129.9 1039.7C1134.1 1037.8 1146.5 1031.5 1154.8 1028.5C1163.1 1025.5 1173.5 1023.0 1179.7 1021.6C1185.9 1020.2 1188.7 1021.0 1192.2 1020.4C1195.7 1019.8 1199.5 1018.3 1200.9 1017.9L1201.2 999.4L1231.3 993.0C1237.2 992.2 1256.8 989.3 1266.6 988.3C1276.4 987.3 1281.9 986.9 1290.0 987.1C1298.1 987.3 1308.0 988.5 1315.3 989.4C1322.6 990.3 1330.0 991.0 1334.1 992.4C1338.2 993.8 1339.0 996.8 1340.0 997.7L1342.4 1016.5"/>
<path class="k" d="M1115.9 1049.5C1114.5 1052.4 1110.2 1060.8 1107.7 1067.1C1105.2 1073.4 1102.5 1079.9 1100.6 1087.1C1098.7 1094.2 1097.0 1101.6 1096.5 1110.0C1096.0 1118.4 1096.7 1127.4 1097.5 1137.4C1098.3 1147.4 1099.3 1160.7 1101.2 1169.8C1103.1 1178.9 1105.8 1186.3 1108.7 1192.3C1111.6 1198.3 1115.0 1202.7 1118.7 1206.0C1122.4 1209.3 1129.0 1211.2 1131.1 1212.2L1146.1 1227.2C1150.2 1229.9 1162.7 1238.8 1171.0 1243.4C1179.3 1248.0 1188.7 1251.7 1196.0 1254.6C1203.3 1257.5 1209.9 1258.5 1214.7 1260.8C1219.5 1263.1 1218.5 1266.2 1224.7 1268.3C1230.9 1270.4 1241.2 1271.8 1252.1 1273.3C1263.0 1274.8 1277.0 1276.9 1290.0 1277.1C1303.0 1277.3 1317.0 1276.1 1329.9 1274.6C1342.8 1273.1 1359.0 1270.0 1367.3 1268.3C1375.6 1266.6 1371.5 1267.7 1379.8 1264.6C1388.1 1261.5 1406.8 1254.6 1417.2 1249.6C1427.6 1244.6 1435.0 1239.9 1442.1 1234.7C1449.2 1229.5 1455.0 1224.3 1459.6 1218.5C1464.2 1212.7 1467.1 1207.1 1469.5 1199.8C1471.9 1192.5 1472.9 1185.2 1473.9 1174.8C1475.0 1164.4 1475.6 1149.9 1475.8 1137.4C1476.0 1124.9 1475.6 1110.3 1475.1 1100.0C1474.6 1089.7 1474.1 1080.8 1473.0 1075.4C1471.9 1070.0 1469.1 1069.0 1468.3 1067.7"/>
<path class="k" d="M1450.7 1069.5L1455.4 1066L1460.1 1068.3L1468.3 1067.7"/>
</g>
</svg>
</body></html>
